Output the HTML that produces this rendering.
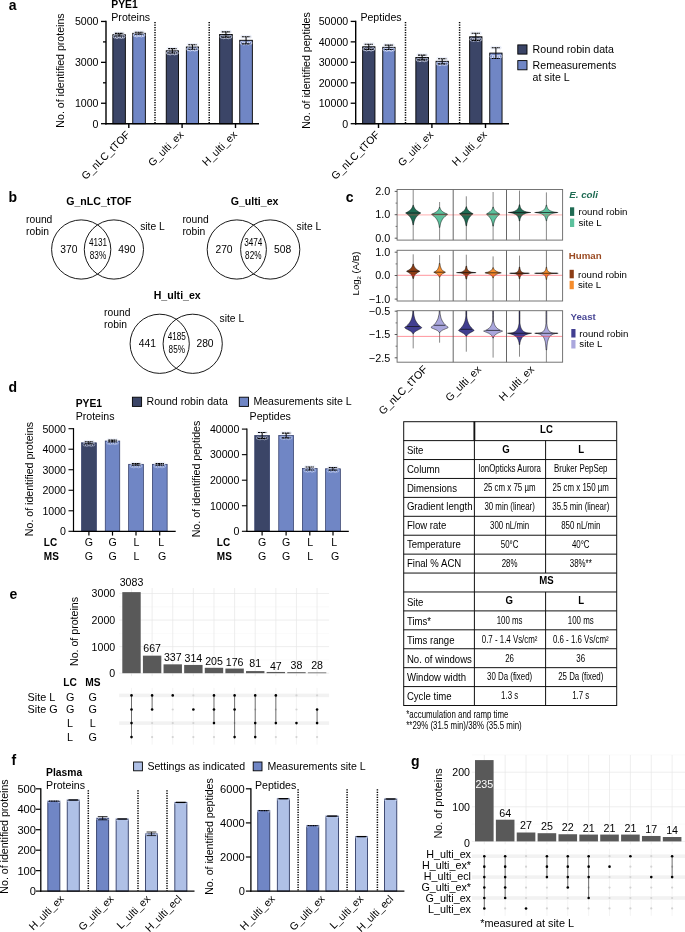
<!DOCTYPE html>
<html lang="en"><head><meta charset="utf-8"><title>Figure</title>
<style>html,body{margin:0;padding:0;background:#fff}svg{display:block}text{font-family:"Liberation Sans",Arial,sans-serif}</style>
</head><body>
<svg width="685" height="932" viewBox="0 0 685 932">
<rect width="685" height="932" fill="#fff"/>
<g id="panel-a">
<text x="8.80" y="9.50" font-size="14" font-weight="bold">a</text>
<text x="111.30" y="7.90" font-size="10.3" font-weight="bold">PYE1</text>
<text x="111.30" y="20.70" font-size="10.6">Proteins</text>
<rect x="112.85" y="34.70" width="12.50" height="89.00" fill="#3b4567" stroke="#000" stroke-width="0.9"/>
<circle cx="114.70" cy="36.55" r="1.45" fill="none" stroke="#e6ebfb" stroke-width="0.7" stroke-opacity="1"/>
<circle cx="116.90" cy="37.05" r="1.45" fill="none" stroke="#e6ebfb" stroke-width="0.7" stroke-opacity="1"/>
<circle cx="119.20" cy="36.55" r="1.45" fill="none" stroke="#e6ebfb" stroke-width="0.7" stroke-opacity="1"/>
<circle cx="121.40" cy="37.05" r="1.45" fill="none" stroke="#e6ebfb" stroke-width="0.7" stroke-opacity="1"/>
<circle cx="123.50" cy="36.55" r="1.45" fill="none" stroke="#e6ebfb" stroke-width="0.7" stroke-opacity="1"/>
<circle cx="115.20" cy="33.40" r="1.45" fill="none" stroke="#dde4f8" stroke-width="0.6"/>
<circle cx="117.80" cy="33.40" r="1.45" fill="none" stroke="#dde4f8" stroke-width="0.6"/>
<circle cx="120.50" cy="33.40" r="1.45" fill="none" stroke="#dde4f8" stroke-width="0.6"/>
<circle cx="123.10" cy="33.40" r="1.45" fill="none" stroke="#dde4f8" stroke-width="0.6"/>
<line x1="119.10" y1="33.40" x2="119.10" y2="36.00" stroke="#000" stroke-width="1.0"/>
<line x1="114.90" y1="33.40" x2="123.30" y2="33.40" stroke="#000" stroke-width="1.1" stroke-dasharray="2 0.5"/>
<line x1="114.90" y1="36.00" x2="123.30" y2="36.00" stroke="#000" stroke-width="1.1" stroke-dasharray="2 0.5"/>
<rect x="132.75" y="33.30" width="12.60" height="90.40" fill="#7086c5" stroke="#000" stroke-width="0.9"/>
<circle cx="134.65" cy="35.05" r="1.45" fill="none" stroke="#e6ebfb" stroke-width="0.7" stroke-opacity="1"/>
<circle cx="136.85" cy="35.55" r="1.45" fill="none" stroke="#e6ebfb" stroke-width="0.7" stroke-opacity="1"/>
<circle cx="139.15" cy="35.05" r="1.45" fill="none" stroke="#e6ebfb" stroke-width="0.7" stroke-opacity="1"/>
<circle cx="141.35" cy="35.55" r="1.45" fill="none" stroke="#e6ebfb" stroke-width="0.7" stroke-opacity="1"/>
<circle cx="143.45" cy="35.05" r="1.45" fill="none" stroke="#e6ebfb" stroke-width="0.7" stroke-opacity="1"/>
<circle cx="135.15" cy="32.30" r="1.45" fill="none" stroke="#dde4f8" stroke-width="0.6"/>
<circle cx="137.75" cy="32.30" r="1.45" fill="none" stroke="#dde4f8" stroke-width="0.6"/>
<circle cx="140.45" cy="32.30" r="1.45" fill="none" stroke="#dde4f8" stroke-width="0.6"/>
<circle cx="143.05" cy="32.30" r="1.45" fill="none" stroke="#dde4f8" stroke-width="0.6"/>
<line x1="139.05" y1="32.30" x2="139.05" y2="34.30" stroke="#000" stroke-width="1.0"/>
<line x1="134.85" y1="32.30" x2="143.25" y2="32.30" stroke="#000" stroke-width="1.1" stroke-dasharray="2 0.5"/>
<line x1="134.85" y1="34.30" x2="143.25" y2="34.30" stroke="#000" stroke-width="1.1" stroke-dasharray="2 0.5"/>
<rect x="166.25" y="50.80" width="12.20" height="72.90" fill="#3b4567" stroke="#000" stroke-width="0.9"/>
<circle cx="167.95" cy="52.97" r="1.45" fill="none" stroke="#e6ebfb" stroke-width="0.7" stroke-opacity="1"/>
<circle cx="170.15" cy="53.47" r="1.45" fill="none" stroke="#e6ebfb" stroke-width="0.7" stroke-opacity="1"/>
<circle cx="172.45" cy="52.97" r="1.45" fill="none" stroke="#e6ebfb" stroke-width="0.7" stroke-opacity="1"/>
<circle cx="174.65" cy="53.47" r="1.45" fill="none" stroke="#e6ebfb" stroke-width="0.7" stroke-opacity="1"/>
<circle cx="176.75" cy="52.97" r="1.45" fill="none" stroke="#e6ebfb" stroke-width="0.7" stroke-opacity="1"/>
<circle cx="168.45" cy="48.60" r="1.45" fill="none" stroke="#dde4f8" stroke-width="0.6"/>
<circle cx="171.05" cy="48.60" r="1.45" fill="none" stroke="#dde4f8" stroke-width="0.6"/>
<circle cx="173.75" cy="48.60" r="1.45" fill="none" stroke="#dde4f8" stroke-width="0.6"/>
<circle cx="176.35" cy="48.60" r="1.45" fill="none" stroke="#dde4f8" stroke-width="0.6"/>
<line x1="172.35" y1="48.60" x2="172.35" y2="53.00" stroke="#000" stroke-width="1.0"/>
<line x1="168.15" y1="48.60" x2="176.55" y2="48.60" stroke="#000" stroke-width="1.1" stroke-dasharray="2 0.5"/>
<line x1="168.15" y1="53.00" x2="176.55" y2="53.00" stroke="#000" stroke-width="1.1" stroke-dasharray="2 0.5"/>
<rect x="186.35" y="47.00" width="12.20" height="76.70" fill="#7086c5" stroke="#000" stroke-width="0.9"/>
<circle cx="188.05" cy="49.17" r="1.45" fill="none" stroke="#e6ebfb" stroke-width="0.7" stroke-opacity="1"/>
<circle cx="190.25" cy="49.67" r="1.45" fill="none" stroke="#e6ebfb" stroke-width="0.7" stroke-opacity="1"/>
<circle cx="192.55" cy="49.17" r="1.45" fill="none" stroke="#e6ebfb" stroke-width="0.7" stroke-opacity="1"/>
<circle cx="194.75" cy="49.67" r="1.45" fill="none" stroke="#e6ebfb" stroke-width="0.7" stroke-opacity="1"/>
<circle cx="196.85" cy="49.17" r="1.45" fill="none" stroke="#e6ebfb" stroke-width="0.7" stroke-opacity="1"/>
<circle cx="188.55" cy="44.80" r="1.45" fill="none" stroke="#dde4f8" stroke-width="0.6"/>
<circle cx="191.15" cy="44.80" r="1.45" fill="none" stroke="#dde4f8" stroke-width="0.6"/>
<circle cx="193.85" cy="44.80" r="1.45" fill="none" stroke="#dde4f8" stroke-width="0.6"/>
<circle cx="196.45" cy="44.80" r="1.45" fill="none" stroke="#dde4f8" stroke-width="0.6"/>
<line x1="192.45" y1="44.80" x2="192.45" y2="49.20" stroke="#000" stroke-width="1.0"/>
<line x1="188.25" y1="44.80" x2="196.65" y2="44.80" stroke="#000" stroke-width="1.1" stroke-dasharray="2 0.5"/>
<line x1="188.25" y1="49.20" x2="196.65" y2="49.20" stroke="#000" stroke-width="1.1" stroke-dasharray="2 0.5"/>
<rect x="219.65" y="34.50" width="12.60" height="89.20" fill="#3b4567" stroke="#000" stroke-width="0.9"/>
<circle cx="221.55" cy="36.81" r="1.45" fill="none" stroke="#e6ebfb" stroke-width="0.7" stroke-opacity="1"/>
<circle cx="223.75" cy="37.31" r="1.45" fill="none" stroke="#e6ebfb" stroke-width="0.7" stroke-opacity="1"/>
<circle cx="226.05" cy="36.81" r="1.45" fill="none" stroke="#e6ebfb" stroke-width="0.7" stroke-opacity="1"/>
<circle cx="228.25" cy="37.31" r="1.45" fill="none" stroke="#e6ebfb" stroke-width="0.7" stroke-opacity="1"/>
<circle cx="230.35" cy="36.81" r="1.45" fill="none" stroke="#e6ebfb" stroke-width="0.7" stroke-opacity="1"/>
<circle cx="222.05" cy="31.90" r="1.45" fill="none" stroke="#dde4f8" stroke-width="0.6"/>
<circle cx="224.65" cy="31.90" r="1.45" fill="none" stroke="#dde4f8" stroke-width="0.6"/>
<circle cx="227.35" cy="31.90" r="1.45" fill="none" stroke="#dde4f8" stroke-width="0.6"/>
<circle cx="229.95" cy="31.90" r="1.45" fill="none" stroke="#dde4f8" stroke-width="0.6"/>
<line x1="225.95" y1="31.90" x2="225.95" y2="37.10" stroke="#000" stroke-width="1.0"/>
<line x1="221.75" y1="31.90" x2="230.15" y2="31.90" stroke="#000" stroke-width="1.1" stroke-dasharray="2 0.5"/>
<line x1="221.75" y1="37.10" x2="230.15" y2="37.10" stroke="#000" stroke-width="1.1" stroke-dasharray="2 0.5"/>
<rect x="239.75" y="40.30" width="12.60" height="83.40" fill="#7086c5" stroke="#000" stroke-width="0.9"/>
<circle cx="241.65" cy="42.96" r="1.45" fill="none" stroke="#e6ebfb" stroke-width="0.7" stroke-opacity="1"/>
<circle cx="243.85" cy="43.46" r="1.45" fill="none" stroke="#e6ebfb" stroke-width="0.7" stroke-opacity="1"/>
<circle cx="246.15" cy="42.96" r="1.45" fill="none" stroke="#e6ebfb" stroke-width="0.7" stroke-opacity="1"/>
<circle cx="248.35" cy="43.46" r="1.45" fill="none" stroke="#e6ebfb" stroke-width="0.7" stroke-opacity="1"/>
<circle cx="250.45" cy="42.96" r="1.45" fill="none" stroke="#e6ebfb" stroke-width="0.7" stroke-opacity="1"/>
<circle cx="242.15" cy="36.70" r="1.45" fill="none" stroke="#dde4f8" stroke-width="0.6"/>
<circle cx="244.75" cy="36.70" r="1.45" fill="none" stroke="#dde4f8" stroke-width="0.6"/>
<circle cx="247.45" cy="36.70" r="1.45" fill="none" stroke="#dde4f8" stroke-width="0.6"/>
<circle cx="250.05" cy="36.70" r="1.45" fill="none" stroke="#dde4f8" stroke-width="0.6"/>
<line x1="246.05" y1="36.70" x2="246.05" y2="43.90" stroke="#000" stroke-width="1.0"/>
<line x1="241.85" y1="36.70" x2="250.25" y2="36.70" stroke="#000" stroke-width="1.1" stroke-dasharray="2 0.5"/>
<line x1="241.85" y1="43.90" x2="250.25" y2="43.90" stroke="#000" stroke-width="1.1" stroke-dasharray="2 0.5"/>
<line x1="155.00" y1="21.90" x2="155.00" y2="123.70" stroke="#000" stroke-width="1.5" stroke-dasharray="1.25 1.25"/>
<line x1="209.20" y1="21.90" x2="209.20" y2="123.70" stroke="#000" stroke-width="1.5" stroke-dasharray="1.25 1.25"/>
<line x1="106.00" y1="20.70" x2="106.00" y2="124.40" stroke="#000" stroke-width="1.4"/>
<line x1="105.30" y1="123.70" x2="259.00" y2="123.70" stroke="#000" stroke-width="1.4"/>
<line x1="101.00" y1="21.45" x2="106.00" y2="21.45" stroke="#000" stroke-width="1.2999999999999998"/>
<text x="98.50" y="25.26" font-size="10.6" text-anchor="end">5000</text>
<line x1="101.00" y1="62.35" x2="106.00" y2="62.35" stroke="#000" stroke-width="1.2999999999999998"/>
<text x="98.50" y="66.16" font-size="10.6" text-anchor="end">3000</text>
<line x1="101.00" y1="103.25" x2="106.00" y2="103.25" stroke="#000" stroke-width="1.2999999999999998"/>
<text x="98.50" y="107.06" font-size="10.6" text-anchor="end">1000</text>
<line x1="101.00" y1="123.70" x2="106.00" y2="123.70" stroke="#000" stroke-width="1.2999999999999998"/>
<text x="98.50" y="127.51" font-size="10.6" text-anchor="end">0</text>
<line x1="103.00" y1="41.90" x2="106.00" y2="41.90" stroke="#000" stroke-width="1.2999999999999998"/>
<line x1="103.00" y1="82.80" x2="106.00" y2="82.80" stroke="#000" stroke-width="1.2999999999999998"/>
<line x1="128.80" y1="123.70" x2="128.80" y2="128.00" stroke="#000" stroke-width="1.4"/>
<line x1="182.10" y1="123.70" x2="182.10" y2="128.00" stroke="#000" stroke-width="1.4"/>
<line x1="235.50" y1="123.70" x2="235.50" y2="128.00" stroke="#000" stroke-width="1.4"/>
<text transform="translate(64.30,70.50) rotate(-90)" font-size="10.6" text-anchor="middle">No. of identified proteins</text>
<text transform="translate(130.70,135.30) rotate(-45)" font-size="10.6" text-anchor="end">G_nLC_tTOF</text>
<text transform="translate(184.20,135.30) rotate(-45)" font-size="10.6" text-anchor="end">G_ulti_ex</text>
<text transform="translate(237.70,135.30) rotate(-45)" font-size="10.6" text-anchor="end">H_ulti_ex</text>
<text x="360.40" y="20.70" font-size="10.6">Peptides</text>
<rect x="362.65" y="46.80" width="12.30" height="76.90" fill="#3b4567" stroke="#000" stroke-width="0.9"/>
<circle cx="364.40" cy="49.11" r="1.45" fill="none" stroke="#e6ebfb" stroke-width="0.7" stroke-opacity="1"/>
<circle cx="366.60" cy="49.61" r="1.45" fill="none" stroke="#e6ebfb" stroke-width="0.7" stroke-opacity="1"/>
<circle cx="368.90" cy="49.11" r="1.45" fill="none" stroke="#e6ebfb" stroke-width="0.7" stroke-opacity="1"/>
<circle cx="371.10" cy="49.61" r="1.45" fill="none" stroke="#e6ebfb" stroke-width="0.7" stroke-opacity="1"/>
<circle cx="373.20" cy="49.11" r="1.45" fill="none" stroke="#e6ebfb" stroke-width="0.7" stroke-opacity="1"/>
<circle cx="364.90" cy="44.20" r="1.45" fill="none" stroke="#dde4f8" stroke-width="0.6"/>
<circle cx="367.50" cy="44.20" r="1.45" fill="none" stroke="#dde4f8" stroke-width="0.6"/>
<circle cx="370.20" cy="44.20" r="1.45" fill="none" stroke="#dde4f8" stroke-width="0.6"/>
<circle cx="372.80" cy="44.20" r="1.45" fill="none" stroke="#dde4f8" stroke-width="0.6"/>
<line x1="368.80" y1="44.20" x2="368.80" y2="49.40" stroke="#000" stroke-width="1.0"/>
<line x1="364.60" y1="44.20" x2="373.00" y2="44.20" stroke="#000" stroke-width="1.1" stroke-dasharray="2 0.5"/>
<line x1="364.60" y1="49.40" x2="373.00" y2="49.40" stroke="#000" stroke-width="1.1" stroke-dasharray="2 0.5"/>
<rect x="382.75" y="47.30" width="12.30" height="76.40" fill="#7086c5" stroke="#000" stroke-width="0.9"/>
<circle cx="384.50" cy="49.47" r="1.45" fill="none" stroke="#e6ebfb" stroke-width="0.7" stroke-opacity="1"/>
<circle cx="386.70" cy="49.97" r="1.45" fill="none" stroke="#e6ebfb" stroke-width="0.7" stroke-opacity="1"/>
<circle cx="389.00" cy="49.47" r="1.45" fill="none" stroke="#e6ebfb" stroke-width="0.7" stroke-opacity="1"/>
<circle cx="391.20" cy="49.97" r="1.45" fill="none" stroke="#e6ebfb" stroke-width="0.7" stroke-opacity="1"/>
<circle cx="393.30" cy="49.47" r="1.45" fill="none" stroke="#e6ebfb" stroke-width="0.7" stroke-opacity="1"/>
<circle cx="385.00" cy="45.10" r="1.45" fill="none" stroke="#dde4f8" stroke-width="0.6"/>
<circle cx="387.60" cy="45.10" r="1.45" fill="none" stroke="#dde4f8" stroke-width="0.6"/>
<circle cx="390.30" cy="45.10" r="1.45" fill="none" stroke="#dde4f8" stroke-width="0.6"/>
<circle cx="392.90" cy="45.10" r="1.45" fill="none" stroke="#dde4f8" stroke-width="0.6"/>
<line x1="388.90" y1="45.10" x2="388.90" y2="49.50" stroke="#000" stroke-width="1.0"/>
<line x1="384.70" y1="45.10" x2="393.10" y2="45.10" stroke="#000" stroke-width="1.1" stroke-dasharray="2 0.5"/>
<line x1="384.70" y1="49.50" x2="393.10" y2="49.50" stroke="#000" stroke-width="1.1" stroke-dasharray="2 0.5"/>
<rect x="415.85" y="57.50" width="12.60" height="66.20" fill="#3b4567" stroke="#000" stroke-width="0.9"/>
<circle cx="417.75" cy="59.74" r="1.45" fill="none" stroke="#e6ebfb" stroke-width="0.7" stroke-opacity="1"/>
<circle cx="419.95" cy="60.24" r="1.45" fill="none" stroke="#e6ebfb" stroke-width="0.7" stroke-opacity="1"/>
<circle cx="422.25" cy="59.74" r="1.45" fill="none" stroke="#e6ebfb" stroke-width="0.7" stroke-opacity="1"/>
<circle cx="424.45" cy="60.24" r="1.45" fill="none" stroke="#e6ebfb" stroke-width="0.7" stroke-opacity="1"/>
<circle cx="426.55" cy="59.74" r="1.45" fill="none" stroke="#e6ebfb" stroke-width="0.7" stroke-opacity="1"/>
<circle cx="418.25" cy="55.10" r="1.45" fill="none" stroke="#dde4f8" stroke-width="0.6"/>
<circle cx="420.85" cy="55.10" r="1.45" fill="none" stroke="#dde4f8" stroke-width="0.6"/>
<circle cx="423.55" cy="55.10" r="1.45" fill="none" stroke="#dde4f8" stroke-width="0.6"/>
<circle cx="426.15" cy="55.10" r="1.45" fill="none" stroke="#dde4f8" stroke-width="0.6"/>
<line x1="422.15" y1="55.10" x2="422.15" y2="59.90" stroke="#000" stroke-width="1.0"/>
<line x1="417.95" y1="55.10" x2="426.35" y2="55.10" stroke="#000" stroke-width="1.1" stroke-dasharray="2 0.5"/>
<line x1="417.95" y1="59.90" x2="426.35" y2="59.90" stroke="#000" stroke-width="1.1" stroke-dasharray="2 0.5"/>
<rect x="436.05" y="61.30" width="12.30" height="62.40" fill="#7086c5" stroke="#000" stroke-width="0.9"/>
<circle cx="437.80" cy="63.61" r="1.45" fill="none" stroke="#e6ebfb" stroke-width="0.7" stroke-opacity="1"/>
<circle cx="440.00" cy="64.11" r="1.45" fill="none" stroke="#e6ebfb" stroke-width="0.7" stroke-opacity="1"/>
<circle cx="442.30" cy="63.61" r="1.45" fill="none" stroke="#e6ebfb" stroke-width="0.7" stroke-opacity="1"/>
<circle cx="444.50" cy="64.11" r="1.45" fill="none" stroke="#e6ebfb" stroke-width="0.7" stroke-opacity="1"/>
<circle cx="446.60" cy="63.61" r="1.45" fill="none" stroke="#e6ebfb" stroke-width="0.7" stroke-opacity="1"/>
<circle cx="438.30" cy="58.70" r="1.45" fill="none" stroke="#dde4f8" stroke-width="0.6"/>
<circle cx="440.90" cy="58.70" r="1.45" fill="none" stroke="#dde4f8" stroke-width="0.6"/>
<circle cx="443.60" cy="58.70" r="1.45" fill="none" stroke="#dde4f8" stroke-width="0.6"/>
<circle cx="446.20" cy="58.70" r="1.45" fill="none" stroke="#dde4f8" stroke-width="0.6"/>
<line x1="442.20" y1="58.70" x2="442.20" y2="63.90" stroke="#000" stroke-width="1.0"/>
<line x1="438.00" y1="58.70" x2="446.40" y2="58.70" stroke="#000" stroke-width="1.1" stroke-dasharray="2 0.5"/>
<line x1="438.00" y1="63.90" x2="446.40" y2="63.90" stroke="#000" stroke-width="1.1" stroke-dasharray="2 0.5"/>
<rect x="469.65" y="36.80" width="12.30" height="86.90" fill="#3b4567" stroke="#000" stroke-width="0.9"/>
<circle cx="471.40" cy="39.46" r="1.45" fill="none" stroke="#e6ebfb" stroke-width="0.7" stroke-opacity="1"/>
<circle cx="473.60" cy="39.96" r="1.45" fill="none" stroke="#e6ebfb" stroke-width="0.7" stroke-opacity="1"/>
<circle cx="475.90" cy="39.46" r="1.45" fill="none" stroke="#e6ebfb" stroke-width="0.7" stroke-opacity="1"/>
<circle cx="478.10" cy="39.96" r="1.45" fill="none" stroke="#e6ebfb" stroke-width="0.7" stroke-opacity="1"/>
<circle cx="480.20" cy="39.46" r="1.45" fill="none" stroke="#e6ebfb" stroke-width="0.7" stroke-opacity="1"/>
<circle cx="471.90" cy="33.20" r="1.45" fill="none" stroke="#dde4f8" stroke-width="0.6"/>
<circle cx="474.50" cy="33.20" r="1.45" fill="none" stroke="#dde4f8" stroke-width="0.6"/>
<circle cx="477.20" cy="33.20" r="1.45" fill="none" stroke="#dde4f8" stroke-width="0.6"/>
<circle cx="479.80" cy="33.20" r="1.45" fill="none" stroke="#dde4f8" stroke-width="0.6"/>
<line x1="475.80" y1="33.20" x2="475.80" y2="40.40" stroke="#000" stroke-width="1.0"/>
<line x1="471.60" y1="33.20" x2="480.00" y2="33.20" stroke="#000" stroke-width="1.1" stroke-dasharray="2 0.5"/>
<line x1="471.60" y1="40.40" x2="480.00" y2="40.40" stroke="#000" stroke-width="1.1" stroke-dasharray="2 0.5"/>
<rect x="489.75" y="53.10" width="12.30" height="70.60" fill="#7086c5" stroke="#000" stroke-width="0.9"/>
<circle cx="491.50" cy="56.39" r="1.45" fill="none" stroke="#e6ebfb" stroke-width="0.7" stroke-opacity="1"/>
<circle cx="493.70" cy="56.89" r="1.45" fill="none" stroke="#e6ebfb" stroke-width="0.7" stroke-opacity="1"/>
<circle cx="496.00" cy="56.39" r="1.45" fill="none" stroke="#e6ebfb" stroke-width="0.7" stroke-opacity="1"/>
<circle cx="498.20" cy="56.89" r="1.45" fill="none" stroke="#e6ebfb" stroke-width="0.7" stroke-opacity="1"/>
<circle cx="500.30" cy="56.39" r="1.45" fill="none" stroke="#e6ebfb" stroke-width="0.7" stroke-opacity="1"/>
<circle cx="492.00" cy="47.70" r="1.45" fill="none" stroke="#dde4f8" stroke-width="0.6"/>
<circle cx="494.60" cy="47.70" r="1.45" fill="none" stroke="#dde4f8" stroke-width="0.6"/>
<circle cx="497.30" cy="47.70" r="1.45" fill="none" stroke="#dde4f8" stroke-width="0.6"/>
<circle cx="499.90" cy="47.70" r="1.45" fill="none" stroke="#dde4f8" stroke-width="0.6"/>
<line x1="495.90" y1="47.70" x2="495.90" y2="58.50" stroke="#000" stroke-width="1.0"/>
<line x1="491.70" y1="47.70" x2="500.10" y2="47.70" stroke="#000" stroke-width="1.1" stroke-dasharray="2 0.5"/>
<line x1="491.70" y1="58.50" x2="500.10" y2="58.50" stroke="#000" stroke-width="1.1" stroke-dasharray="2 0.5"/>
<line x1="405.50" y1="21.90" x2="405.50" y2="123.70" stroke="#000" stroke-width="1.5" stroke-dasharray="1.25 1.25"/>
<line x1="459.60" y1="21.90" x2="459.60" y2="123.70" stroke="#000" stroke-width="1.5" stroke-dasharray="1.25 1.25"/>
<line x1="355.70" y1="20.70" x2="355.70" y2="124.40" stroke="#000" stroke-width="1.4"/>
<line x1="355.00" y1="123.70" x2="509.00" y2="123.70" stroke="#000" stroke-width="1.4"/>
<line x1="350.70" y1="21.40" x2="355.70" y2="21.40" stroke="#000" stroke-width="1.2999999999999998"/>
<text x="348.20" y="25.21" font-size="10.6" text-anchor="end">50000</text>
<line x1="350.70" y1="41.86" x2="355.70" y2="41.86" stroke="#000" stroke-width="1.2999999999999998"/>
<text x="348.20" y="45.67" font-size="10.6" text-anchor="end">40000</text>
<line x1="350.70" y1="62.32" x2="355.70" y2="62.32" stroke="#000" stroke-width="1.2999999999999998"/>
<text x="348.20" y="66.13" font-size="10.6" text-anchor="end">30000</text>
<line x1="350.70" y1="82.78" x2="355.70" y2="82.78" stroke="#000" stroke-width="1.2999999999999998"/>
<text x="348.20" y="86.59" font-size="10.6" text-anchor="end">20000</text>
<line x1="350.70" y1="103.24" x2="355.70" y2="103.24" stroke="#000" stroke-width="1.2999999999999998"/>
<text x="348.20" y="107.05" font-size="10.6" text-anchor="end">10000</text>
<line x1="350.70" y1="123.70" x2="355.70" y2="123.70" stroke="#000" stroke-width="1.2999999999999998"/>
<text x="348.20" y="127.51" font-size="10.6" text-anchor="end">0</text>
<line x1="378.50" y1="123.70" x2="378.50" y2="128.00" stroke="#000" stroke-width="1.4"/>
<line x1="431.90" y1="123.70" x2="431.90" y2="128.00" stroke="#000" stroke-width="1.4"/>
<line x1="485.50" y1="123.70" x2="485.50" y2="128.00" stroke="#000" stroke-width="1.4"/>
<text transform="translate(309.60,70.50) rotate(-90)" font-size="10.6" text-anchor="middle">No. of identified peptides</text>
<text transform="translate(380.40,135.30) rotate(-45)" font-size="10.6" text-anchor="end">G_nLC_tTOF</text>
<text transform="translate(434.00,135.30) rotate(-45)" font-size="10.6" text-anchor="end">G_ulti_ex</text>
<text transform="translate(487.60,135.30) rotate(-45)" font-size="10.6" text-anchor="end">H_ulti_ex</text>
<rect x="517.80" y="44.90" width="9.20" height="9.20" fill="#3b4567" stroke="#000" stroke-width="0.9"/>
<rect x="517.80" y="60.60" width="9.20" height="9.20" fill="#7086c5" stroke="#000" stroke-width="0.9"/>
<text x="532.60" y="52.60" font-size="10.6">Round robin data</text>
<text x="532.60" y="68.90" font-size="10.6">Remeasurements</text>
<text x="532.60" y="81.20" font-size="10.6">at site L</text>
</g>
<g id="panel-b">
<text x="8.60" y="202.10" font-size="14" font-weight="bold">b</text>
<circle cx="81.2" cy="249.5" r="29.6" fill="none" stroke="#000" stroke-width="0.9"/>
<circle cx="113.9" cy="249.5" r="29.6" fill="none" stroke="#000" stroke-width="0.9"/>
<text x="98.80" y="205.40" font-size="10.6" text-anchor="middle" font-weight="bold">G_nLC_tTOF</text>
<text x="26.00" y="222.70" font-size="10.3">round</text>
<text x="26.00" y="234.60" font-size="10.3">robin</text>
<text x="140.20" y="229.70" font-size="10.3">site L</text>
<text x="68.80" y="252.50" font-size="10.3" text-anchor="middle">370</text>
<text x="126.80" y="252.50" font-size="10.3" text-anchor="middle">490</text>
<text transform="translate(98.00,246.30) scale(0.82,1)" font-size="10" text-anchor="middle">4131</text>
<text transform="translate(98.00,259.00) scale(0.82,1)" font-size="10" text-anchor="middle">83%</text>
<circle cx="236.8" cy="249.5" r="29.6" fill="none" stroke="#000" stroke-width="0.9"/>
<circle cx="270.2" cy="249.5" r="29.6" fill="none" stroke="#000" stroke-width="0.9"/>
<text x="254.60" y="205.40" font-size="10.6" text-anchor="middle" font-weight="bold">G_ulti_ex</text>
<text x="182.40" y="222.70" font-size="10.3">round</text>
<text x="182.40" y="234.60" font-size="10.3">robin</text>
<text x="296.60" y="229.70" font-size="10.3">site L</text>
<text x="224.00" y="252.50" font-size="10.3" text-anchor="middle">270</text>
<text x="282.70" y="252.50" font-size="10.3" text-anchor="middle">508</text>
<text transform="translate(253.30,246.30) scale(0.82,1)" font-size="10" text-anchor="middle">3474</text>
<text transform="translate(253.30,259.00) scale(0.82,1)" font-size="10" text-anchor="middle">82%</text>
<circle cx="159.7" cy="343.8" r="29.6" fill="none" stroke="#000" stroke-width="0.9"/>
<circle cx="192.7" cy="343.8" r="29.6" fill="none" stroke="#000" stroke-width="0.9"/>
<text x="177.20" y="299.10" font-size="10.6" text-anchor="middle" font-weight="bold">H_ulti_ex</text>
<text x="104.10" y="315.80" font-size="10.3">round</text>
<text x="104.10" y="328.40" font-size="10.3">robin</text>
<text x="219.50" y="322.20" font-size="10.3">site L</text>
<text x="147.30" y="346.60" font-size="10.3" text-anchor="middle">441</text>
<text x="205.00" y="346.60" font-size="10.3" text-anchor="middle">280</text>
<text transform="translate(176.80,339.60) scale(0.82,1)" font-size="10" text-anchor="middle">4185</text>
<text transform="translate(176.80,352.80) scale(0.82,1)" font-size="10" text-anchor="middle">85%</text>
</g>
<g id="panel-c">
<text x="345.80" y="201.90" font-size="14" font-weight="bold">c</text>
<line x1="413.20" y1="189.50" x2="413.20" y2="240.10" stroke="#484848" stroke-width="0.65"/>
<path d="M413.5,205.3 413.6,205.9 413.8,206.5 414.0,207.1 414.3,207.6 414.5,208.1 414.9,208.6 415.2,209.1 415.6,209.6 416.1,210.0 416.6,210.4 417.1,210.8 417.6,211.1 418.1,211.5 418.6,211.8 419.0,212.0 419.5,212.3 419.9,212.5 420.2,212.6 420.5,212.8 420.7,212.9 420.8,213.0 420.8,213.0 420.8,213.0 420.6,213.2 420.4,213.3 420.1,213.5 419.7,213.8 419.3,214.1 418.8,214.5 418.3,214.9 417.8,215.4 417.3,215.8 416.8,216.4 416.3,216.9 415.9,217.6 415.5,218.2 415.1,218.9 414.8,219.6 414.5,220.4 414.2,221.2 414.0,222.0 413.8,222.9 413.6,223.8 413.5,224.8 412.9,224.8 412.8,223.8 412.6,222.9 412.4,222.0 412.2,221.2 411.9,220.4 411.6,219.6 411.3,218.9 410.9,218.2 410.5,217.6 410.1,216.9 409.6,216.4 409.1,215.8 408.6,215.4 408.1,214.9 407.6,214.5 407.1,214.1 406.7,213.8 406.3,213.5 406.0,213.3 405.8,213.2 405.6,213.0 405.6,213.0 405.6,213.0 405.7,212.9 405.9,212.8 406.2,212.6 406.5,212.5 406.9,212.3 407.4,212.0 407.8,211.8 408.3,211.5 408.8,211.1 409.3,210.8 409.8,210.4 410.3,210.0 410.8,209.6 411.2,209.1 411.5,208.6 411.9,208.1 412.1,207.6 412.4,207.1 412.6,206.5 412.8,205.9 412.9,205.3Z" fill="#1f6b53" stroke="#0a0a0a" stroke-width="0.5" stroke-linejoin="round"/>
<line x1="406.33" y1="213.00" x2="420.07" y2="213.00" stroke="#111" stroke-width="0.7"/>
<line x1="439.60" y1="202.00" x2="439.60" y2="240.10" stroke="#484848" stroke-width="0.65"/>
<path d="M439.9,207.4 440.0,208.0 440.2,208.5 440.4,209.0 440.7,209.5 441.0,210.0 441.3,210.4 441.7,210.8 442.2,211.2 442.6,211.6 443.1,212.0 443.7,212.3 444.2,212.6 444.8,212.9 445.3,213.2 445.8,213.4 446.3,213.6 446.7,213.8 447.1,214.0 447.4,214.1 447.6,214.2 447.7,214.3 447.8,214.3 447.7,214.4 447.6,214.5 447.3,214.7 447.0,214.9 446.5,215.2 446.1,215.6 445.6,216.0 445.0,216.4 444.5,216.9 443.9,217.5 443.4,218.1 442.9,218.7 442.4,219.4 442.0,220.1 441.6,220.9 441.2,221.7 440.9,222.5 440.6,223.4 440.4,224.3 440.2,225.3 440.0,226.3 439.9,227.4 439.3,227.4 439.2,226.3 439.0,225.3 438.8,224.3 438.6,223.4 438.3,222.5 438.0,221.7 437.6,220.9 437.2,220.1 436.8,219.4 436.3,218.7 435.8,218.1 435.3,217.5 434.7,216.9 434.2,216.4 433.6,216.0 433.1,215.6 432.7,215.2 432.2,214.9 431.9,214.7 431.6,214.5 431.5,214.4 431.4,214.3 431.5,214.3 431.6,214.2 431.8,214.1 432.1,214.0 432.5,213.8 432.9,213.6 433.4,213.4 433.9,213.2 434.4,212.9 435.0,212.6 435.5,212.3 436.1,212.0 436.6,211.6 437.0,211.2 437.5,210.8 437.9,210.4 438.2,210.0 438.5,209.5 438.8,209.0 439.0,208.5 439.2,208.0 439.3,207.4Z" fill="#5cc19d" stroke="#0a0a0a" stroke-width="0.5" stroke-linejoin="round"/>
<line x1="432.24" y1="214.30" x2="446.96" y2="214.30" stroke="#111" stroke-width="0.7"/>
<line x1="466.30" y1="196.30" x2="466.30" y2="240.10" stroke="#484848" stroke-width="0.65"/>
<path d="M466.6,206.8 466.7,207.4 466.9,207.9 467.1,208.5 467.3,209.0 467.6,209.4 467.9,209.9 468.3,210.3 468.7,210.7 469.1,211.1 469.5,211.5 470.0,211.8 470.4,212.1 470.9,212.4 471.3,212.7 471.7,212.9 472.0,213.1 472.4,213.3 472.6,213.5 472.8,213.6 473.0,213.7 473.1,213.8 473.1,213.8 473.0,213.8 472.9,214.0 472.7,214.1 472.4,214.4 472.1,214.6 471.7,215.0 471.3,215.3 470.9,215.7 470.5,216.2 470.0,216.7 469.6,217.3 469.2,217.8 468.8,218.5 468.4,219.1 468.1,219.8 467.8,220.6 467.5,221.4 467.3,222.2 467.0,223.0 466.9,223.9 466.7,224.9 466.6,225.8 466.0,225.8 465.9,224.9 465.7,223.9 465.6,223.0 465.3,222.2 465.1,221.4 464.8,220.6 464.5,219.8 464.2,219.1 463.8,218.5 463.4,217.8 463.0,217.3 462.6,216.7 462.1,216.2 461.7,215.7 461.3,215.3 460.9,215.0 460.5,214.6 460.2,214.4 459.9,214.1 459.7,214.0 459.6,213.8 459.5,213.8 459.5,213.8 459.6,213.7 459.8,213.6 460.0,213.5 460.2,213.3 460.6,213.1 460.9,212.9 461.3,212.7 461.7,212.4 462.2,212.1 462.6,211.8 463.1,211.5 463.5,211.1 463.9,210.7 464.3,210.3 464.7,209.9 465.0,209.4 465.3,209.0 465.5,208.5 465.7,207.9 465.9,207.4 466.0,206.8Z" fill="#1f6b53" stroke="#0a0a0a" stroke-width="0.5" stroke-linejoin="round"/>
<line x1="460.20" y1="213.80" x2="472.40" y2="213.80" stroke="#111" stroke-width="0.7"/>
<line x1="493.10" y1="192.00" x2="493.10" y2="240.10" stroke="#484848" stroke-width="0.65"/>
<path d="M493.4,207.1 493.5,207.7 493.7,208.2 493.9,208.8 494.1,209.3 494.4,209.7 494.7,210.2 495.1,210.6 495.5,211.0 495.9,211.4 496.3,211.8 496.8,212.1 497.2,212.4 497.7,212.7 498.1,213.0 498.5,213.2 498.8,213.4 499.2,213.6 499.4,213.8 499.6,213.9 499.8,214.0 499.9,214.1 499.9,214.1 499.8,214.1 499.7,214.3 499.5,214.4 499.2,214.7 498.9,214.9 498.5,215.3 498.1,215.6 497.7,216.0 497.3,216.5 496.8,217.0 496.4,217.6 496.0,218.1 495.6,218.8 495.2,219.4 494.9,220.1 494.6,220.9 494.3,221.7 494.1,222.5 493.8,223.3 493.7,224.2 493.5,225.2 493.4,226.1 492.8,226.1 492.7,225.2 492.5,224.2 492.4,223.3 492.1,222.5 491.9,221.7 491.6,220.9 491.3,220.1 491.0,219.4 490.6,218.8 490.2,218.1 489.8,217.6 489.4,217.0 488.9,216.5 488.5,216.0 488.1,215.6 487.7,215.3 487.3,214.9 487.0,214.7 486.7,214.4 486.5,214.3 486.4,214.1 486.3,214.1 486.3,214.1 486.4,214.0 486.6,213.9 486.8,213.8 487.0,213.6 487.4,213.4 487.7,213.2 488.1,213.0 488.5,212.7 489.0,212.4 489.4,212.1 489.9,211.8 490.3,211.4 490.7,211.0 491.1,210.6 491.5,210.2 491.8,209.7 492.1,209.3 492.3,208.8 492.5,208.2 492.7,207.7 492.8,207.1Z" fill="#5cc19d" stroke="#0a0a0a" stroke-width="0.5" stroke-linejoin="round"/>
<line x1="487.00" y1="214.10" x2="499.20" y2="214.10" stroke="#111" stroke-width="0.7"/>
<line x1="519.50" y1="190.60" x2="519.50" y2="240.10" stroke="#484848" stroke-width="0.65"/>
<path d="M519.8,204.8 519.9,205.4 520.0,206.0 520.2,206.6 520.3,207.2 520.6,207.7 520.8,208.2 521.1,208.6 521.4,209.1 521.8,209.5 522.2,209.9 522.7,210.3 523.3,210.6 523.9,211.0 524.6,211.3 525.3,211.5 526.1,211.8 526.9,212.0 527.8,212.1 528.7,212.3 529.6,212.4 530.4,212.5 530.9,212.5 530.4,212.5 529.6,212.6 528.7,212.7 527.8,212.9 526.9,213.1 526.1,213.3 525.3,213.6 524.6,213.9 523.9,214.2 523.3,214.5 522.7,214.9 522.2,215.3 521.8,215.7 521.4,216.2 521.1,216.7 520.8,217.2 520.6,217.8 520.3,218.3 520.2,218.9 520.0,219.5 519.9,220.2 519.8,220.9 519.2,220.9 519.1,220.2 519.0,219.5 518.8,218.9 518.7,218.3 518.4,217.8 518.2,217.2 517.9,216.7 517.6,216.2 517.2,215.7 516.8,215.3 516.3,214.9 515.7,214.5 515.1,214.2 514.4,213.9 513.7,213.6 512.9,213.3 512.1,213.1 511.2,212.9 510.3,212.7 509.4,212.6 508.6,212.5 508.1,212.5 508.6,212.5 509.4,212.4 510.3,212.3 511.2,212.1 512.1,212.0 512.9,211.8 513.7,211.5 514.4,211.3 515.1,211.0 515.7,210.6 516.3,210.3 516.8,209.9 517.2,209.5 517.6,209.1 517.9,208.6 518.2,208.2 518.4,207.7 518.7,207.2 518.8,206.6 519.0,206.0 519.1,205.4 519.2,204.8Z" fill="#1f6b53" stroke="#0a0a0a" stroke-width="0.5" stroke-linejoin="round"/>
<line x1="509.26" y1="212.50" x2="529.74" y2="212.50" stroke="#111" stroke-width="0.7"/>
<line x1="546.40" y1="192.40" x2="546.40" y2="240.10" stroke="#484848" stroke-width="0.65"/>
<path d="M546.7,205.2 546.8,205.8 546.9,206.3 547.1,206.9 547.3,207.4 547.5,207.9 547.7,208.4 548.0,208.8 548.3,209.3 548.7,209.7 549.2,210.0 549.7,210.4 550.2,210.7 550.9,211.0 551.6,211.3 552.3,211.6 553.2,211.8 554.0,212.0 555.0,212.2 555.9,212.3 556.8,212.4 557.6,212.5 558.1,212.5 557.6,212.5 556.8,212.6 555.9,212.7 555.0,212.9 554.0,213.1 553.2,213.3 552.3,213.5 551.6,213.8 550.9,214.1 550.2,214.5 549.7,214.9 549.2,215.3 548.7,215.7 548.3,216.1 548.0,216.6 547.7,217.1 547.5,217.7 547.3,218.2 547.1,218.8 546.9,219.4 546.8,220.1 546.7,220.7 546.1,220.7 546.0,220.1 545.9,219.4 545.7,218.8 545.5,218.2 545.3,217.7 545.1,217.1 544.8,216.6 544.5,216.1 544.1,215.7 543.6,215.3 543.1,214.9 542.6,214.5 541.9,214.1 541.2,213.8 540.5,213.5 539.6,213.3 538.8,213.1 537.8,212.9 536.9,212.7 536.0,212.6 535.2,212.5 534.7,212.5 535.2,212.5 536.0,212.4 536.9,212.3 537.8,212.2 538.8,212.0 539.6,211.8 540.5,211.6 541.2,211.3 541.9,211.0 542.6,210.7 543.1,210.4 543.6,210.0 544.1,209.7 544.5,209.3 544.8,208.8 545.1,208.4 545.3,207.9 545.5,207.4 545.7,206.9 545.9,206.3 546.0,205.8 546.1,205.2Z" fill="#5cc19d" stroke="#0a0a0a" stroke-width="0.5" stroke-linejoin="round"/>
<line x1="535.84" y1="212.50" x2="556.96" y2="212.50" stroke="#111" stroke-width="0.7"/>
<line x1="413.20" y1="254.30" x2="413.20" y2="301.00" stroke="#484848" stroke-width="0.65"/>
<path d="M413.5,264.1 413.6,264.7 413.8,265.2 413.9,265.8 414.2,266.3 414.4,266.8 414.7,267.2 415.0,267.7 415.3,268.1 415.7,268.5 416.1,268.9 416.5,269.2 417.0,269.6 417.4,269.9 417.8,270.1 418.2,270.4 418.6,270.6 419.0,270.8 419.3,271.0 419.5,271.1 419.7,271.2 419.8,271.3 419.9,271.3 419.8,271.3 419.7,271.4 419.5,271.5 419.3,271.6 419.0,271.8 418.6,272.0 418.2,272.2 417.8,272.5 417.4,272.7 417.0,273.0 416.5,273.4 416.1,273.7 415.7,274.1 415.3,274.5 415.0,274.9 414.7,275.4 414.4,275.8 414.2,276.3 413.9,276.8 413.8,277.4 413.6,277.9 413.5,278.5 412.9,278.5 412.8,277.9 412.6,277.4 412.5,276.8 412.2,276.3 412.0,275.8 411.7,275.4 411.4,274.9 411.1,274.5 410.7,274.1 410.3,273.7 409.9,273.4 409.4,273.0 409.0,272.7 408.6,272.5 408.2,272.2 407.8,272.0 407.4,271.8 407.1,271.6 406.9,271.5 406.7,271.4 406.6,271.3 406.5,271.3 406.6,271.3 406.7,271.2 406.9,271.1 407.1,271.0 407.4,270.8 407.8,270.6 408.2,270.4 408.6,270.1 409.0,269.9 409.4,269.6 409.9,269.2 410.3,268.9 410.7,268.5 411.1,268.1 411.4,267.7 411.7,267.2 412.0,266.8 412.2,266.3 412.5,265.8 412.6,265.2 412.8,264.7 412.9,264.1Z" fill="#8c3d15" stroke="#0a0a0a" stroke-width="0.5" stroke-linejoin="round"/>
<line x1="407.19" y1="271.30" x2="419.21" y2="271.30" stroke="#111" stroke-width="0.7"/>
<line x1="439.60" y1="255.10" x2="439.60" y2="301.00" stroke="#484848" stroke-width="0.65"/>
<path d="M439.9,263.4 440.0,264.1 440.1,264.8 440.2,265.4 440.3,266.1 440.5,266.7 440.7,267.2 440.9,267.8 441.1,268.3 441.4,268.8 441.6,269.2 441.9,269.7 442.3,270.1 442.6,270.4 443.0,270.8 443.3,271.1 443.7,271.3 444.1,271.6 444.5,271.8 444.8,272.0 445.1,272.1 445.3,272.2 445.5,272.2 445.5,272.2 445.4,272.3 445.3,272.3 445.1,272.4 444.9,272.5 444.6,272.7 444.3,272.8 444.0,273.0 443.6,273.2 443.2,273.4 442.8,273.6 442.5,273.9 442.1,274.1 441.7,274.4 441.4,274.7 441.1,275.0 440.8,275.3 440.6,275.7 440.4,276.0 440.2,276.4 440.0,276.8 439.9,277.2 439.3,277.2 439.2,276.8 439.0,276.4 438.8,276.0 438.6,275.7 438.4,275.3 438.1,275.0 437.8,274.7 437.5,274.4 437.1,274.1 436.7,273.9 436.4,273.6 436.0,273.4 435.6,273.2 435.2,273.0 434.9,272.8 434.6,272.7 434.3,272.5 434.1,272.4 433.9,272.3 433.8,272.3 433.7,272.2 433.7,272.2 433.9,272.2 434.1,272.1 434.4,272.0 434.7,271.8 435.1,271.6 435.5,271.3 435.9,271.1 436.2,270.8 436.6,270.4 436.9,270.1 437.3,269.7 437.6,269.2 437.8,268.8 438.1,268.3 438.3,267.8 438.5,267.2 438.7,266.7 438.9,266.1 439.0,265.4 439.1,264.8 439.2,264.1 439.3,263.4Z" fill="#f58c2c" stroke="#0a0a0a" stroke-width="0.5" stroke-linejoin="round"/>
<line x1="434.31" y1="272.20" x2="444.89" y2="272.20" stroke="#111" stroke-width="0.7"/>
<line x1="466.30" y1="254.70" x2="466.30" y2="301.00" stroke="#484848" stroke-width="0.65"/>
<path d="M466.6,266.1 466.7,266.7 466.8,267.2 466.9,267.6 467.0,268.1 467.1,268.5 467.3,269.0 467.5,269.4 467.7,269.7 468.0,270.1 468.3,270.4 468.6,270.7 469.0,271.0 469.4,271.3 469.9,271.6 470.4,271.8 471.0,272.0 471.7,272.2 472.5,272.3 473.3,272.4 474.2,272.5 475.2,272.6 476.1,272.6 475.2,272.6 474.2,272.7 473.3,272.8 472.5,272.9 471.7,273.0 471.0,273.2 470.4,273.4 469.9,273.6 469.4,273.9 469.0,274.2 468.6,274.5 468.3,274.8 468.0,275.1 467.7,275.5 467.5,275.8 467.3,276.2 467.1,276.7 467.0,277.1 466.9,277.6 466.8,278.0 466.7,278.5 466.6,279.1 466.0,279.1 465.9,278.5 465.8,278.0 465.7,277.6 465.6,277.1 465.5,276.7 465.3,276.2 465.1,275.8 464.9,275.5 464.6,275.1 464.3,274.8 464.0,274.5 463.6,274.2 463.2,273.9 462.7,273.6 462.2,273.4 461.6,273.2 460.9,273.0 460.1,272.9 459.3,272.8 458.4,272.7 457.4,272.6 456.5,272.6 457.4,272.6 458.4,272.5 459.3,272.4 460.1,272.3 460.9,272.2 461.6,272.0 462.2,271.8 462.7,271.6 463.2,271.3 463.6,271.0 464.0,270.7 464.3,270.4 464.6,270.1 464.9,269.7 465.1,269.4 465.3,269.0 465.5,268.5 465.6,268.1 465.7,267.6 465.8,267.2 465.9,266.7 466.0,266.1Z" fill="#8c3d15" stroke="#0a0a0a" stroke-width="0.5" stroke-linejoin="round"/>
<line x1="457.50" y1="272.60" x2="475.10" y2="272.60" stroke="#111" stroke-width="0.7"/>
<line x1="493.10" y1="256.40" x2="493.10" y2="301.00" stroke="#484848" stroke-width="0.65"/>
<path d="M493.4,267.7 493.5,268.1 493.7,268.5 493.8,268.9 494.1,269.3 494.3,269.6 494.6,269.9 494.9,270.3 495.3,270.5 495.7,270.8 496.1,271.1 496.6,271.3 497.1,271.6 497.7,271.8 498.2,272.0 498.7,272.2 499.3,272.3 499.8,272.4 500.2,272.6 500.6,272.7 501.0,272.7 501.2,272.8 501.3,272.8 501.2,272.8 501.0,272.9 500.6,272.9 500.2,273.0 499.8,273.2 499.3,273.3 498.7,273.4 498.2,273.6 497.7,273.8 497.1,274.0 496.6,274.3 496.1,274.5 495.7,274.8 495.3,275.1 494.9,275.3 494.6,275.7 494.3,276.0 494.1,276.3 493.8,276.7 493.7,277.1 493.5,277.5 493.4,277.9 492.8,277.9 492.7,277.5 492.5,277.1 492.4,276.7 492.1,276.3 491.9,276.0 491.6,275.7 491.3,275.3 490.9,275.1 490.5,274.8 490.1,274.5 489.6,274.3 489.1,274.0 488.5,273.8 488.0,273.6 487.5,273.4 486.9,273.3 486.4,273.2 486.0,273.0 485.6,272.9 485.2,272.9 485.0,272.8 484.9,272.8 485.0,272.8 485.2,272.7 485.6,272.7 486.0,272.6 486.4,272.4 486.9,272.3 487.5,272.2 488.0,272.0 488.5,271.8 489.1,271.6 489.6,271.3 490.1,271.1 490.5,270.8 490.9,270.5 491.3,270.3 491.6,269.9 491.9,269.6 492.1,269.3 492.4,268.9 492.5,268.5 492.7,268.1 492.8,267.7Z" fill="#f58c2c" stroke="#0a0a0a" stroke-width="0.5" stroke-linejoin="round"/>
<line x1="485.74" y1="272.80" x2="500.46" y2="272.80" stroke="#111" stroke-width="0.7"/>
<line x1="519.50" y1="255.60" x2="519.50" y2="301.00" stroke="#484848" stroke-width="0.65"/>
<path d="M519.8,267.0 519.8,267.5 519.9,268.0 520.0,268.4 520.1,268.9 520.2,269.3 520.3,269.7 520.5,270.1 520.6,270.5 520.8,270.8 521.0,271.2 521.3,271.5 521.6,271.8 521.9,272.0 522.3,272.3 522.7,272.5 523.3,272.7 523.9,272.9 524.6,273.0 525.4,273.1 526.4,273.2 527.7,273.3 529.4,273.3 528.1,273.3 526.9,273.4 525.9,273.5 525.1,273.6 524.3,273.7 523.7,273.8 523.1,274.0 522.6,274.2 522.2,274.4 521.8,274.6 521.5,274.9 521.2,275.2 521.0,275.5 520.8,275.8 520.6,276.1 520.4,276.4 520.3,276.8 520.1,277.2 520.0,277.6 519.9,278.0 519.9,278.4 519.8,278.8 519.2,278.8 519.1,278.4 519.1,278.0 519.0,277.6 518.9,277.2 518.7,276.8 518.6,276.4 518.4,276.1 518.2,275.8 518.0,275.5 517.8,275.2 517.5,274.9 517.2,274.6 516.8,274.4 516.4,274.2 515.9,274.0 515.3,273.8 514.7,273.7 513.9,273.6 513.1,273.5 512.1,273.4 510.9,273.3 509.6,273.3 511.3,273.3 512.6,273.2 513.6,273.1 514.4,273.0 515.1,272.9 515.7,272.7 516.3,272.5 516.7,272.3 517.1,272.0 517.4,271.8 517.7,271.5 518.0,271.2 518.2,270.8 518.4,270.5 518.5,270.1 518.7,269.7 518.8,269.3 518.9,268.9 519.0,268.4 519.1,268.0 519.2,267.5 519.2,267.0Z" fill="#8c3d15" stroke="#0a0a0a" stroke-width="0.5" stroke-linejoin="round"/>
<line x1="510.61" y1="273.30" x2="528.39" y2="273.30" stroke="#111" stroke-width="0.7"/>
<line x1="546.40" y1="250.30" x2="546.40" y2="301.00" stroke="#777" stroke-width="1.0"/>
<path d="M546.7,267.2 546.7,267.7 546.8,268.2 546.9,268.6 547.0,269.1 547.1,269.5 547.3,269.9 547.4,270.3 547.6,270.6 547.8,270.9 548.1,271.3 548.4,271.6 548.7,271.8 549.1,272.1 549.5,272.3 550.0,272.5 550.7,272.7 551.4,272.9 552.2,273.0 553.3,273.1 554.5,273.2 556.0,273.3 558.2,273.3 556.0,273.3 554.5,273.4 553.3,273.5 552.2,273.6 551.4,273.7 550.7,273.9 550.0,274.1 549.5,274.3 549.1,274.5 548.7,274.8 548.4,275.0 548.1,275.3 547.8,275.7 547.6,276.0 547.4,276.3 547.3,276.7 547.1,277.1 547.0,277.5 546.9,278.0 546.8,278.4 546.7,278.9 546.7,279.4 546.1,279.4 546.1,278.9 546.0,278.4 545.9,278.0 545.8,277.5 545.7,277.1 545.5,276.7 545.4,276.3 545.2,276.0 545.0,275.7 544.7,275.3 544.4,275.0 544.1,274.8 543.7,274.5 543.3,274.3 542.8,274.1 542.1,273.9 541.4,273.7 540.6,273.6 539.5,273.5 538.3,273.4 536.8,273.3 534.6,273.3 536.8,273.3 538.3,273.2 539.5,273.1 540.6,273.0 541.4,272.9 542.1,272.7 542.8,272.5 543.3,272.3 543.7,272.1 544.1,271.8 544.4,271.6 544.7,271.3 545.0,270.9 545.2,270.6 545.4,270.3 545.5,269.9 545.7,269.5 545.8,269.1 545.9,268.6 546.0,268.2 546.1,267.7 546.1,267.2Z" fill="#f58c2c" stroke="#0a0a0a" stroke-width="0.5" stroke-linejoin="round"/>
<line x1="535.80" y1="273.30" x2="557.00" y2="273.30" stroke="#111" stroke-width="0.7"/>
<line x1="413.20" y1="310.70" x2="413.20" y2="348.40" stroke="#484848" stroke-width="0.65"/>
<path d="M413.6,311.1 413.6,312.4 413.7,313.7 413.9,314.9 414.1,316.1 414.4,317.2 414.7,318.3 415.0,319.3 415.4,320.2 415.9,321.1 416.4,322.0 416.9,322.8 417.5,323.5 418.0,324.2 418.6,324.8 419.2,325.4 419.8,325.9 420.3,326.4 420.8,326.7 421.1,327.0 421.5,327.3 421.7,327.4 421.7,327.5 421.7,327.5 421.7,327.6 421.7,327.7 421.6,327.8 421.5,327.9 421.4,328.1 421.1,328.3 420.8,328.5 420.5,328.8 420.0,329.0 419.4,329.3 418.8,329.6 418.2,329.9 417.5,330.3 416.8,330.7 416.1,331.0 415.5,331.4 414.9,331.9 414.5,332.3 414.0,332.8 413.7,333.3 413.5,333.8 412.9,333.8 412.7,333.3 412.4,332.8 411.9,332.3 411.5,331.9 410.9,331.4 410.3,331.0 409.6,330.7 408.9,330.3 408.2,329.9 407.6,329.6 407.0,329.3 406.4,329.0 405.9,328.8 405.6,328.5 405.3,328.3 405.0,328.1 404.9,327.9 404.8,327.8 404.7,327.7 404.7,327.6 404.7,327.5 404.7,327.5 404.7,327.4 404.9,327.3 405.3,327.0 405.6,326.7 406.1,326.4 406.6,325.9 407.2,325.4 407.8,324.8 408.4,324.2 408.9,323.5 409.5,322.8 410.0,322.0 410.5,321.1 411.0,320.2 411.4,319.3 411.7,318.3 412.0,317.2 412.3,316.1 412.5,314.9 412.7,313.7 412.8,312.4 412.8,311.1Z" fill="#413e90" stroke="#0a0a0a" stroke-width="0.5" stroke-linejoin="round"/>
<line x1="406.67" y1="326.50" x2="419.73" y2="326.50" stroke="#111" stroke-width="0.7"/>
<line x1="439.60" y1="310.70" x2="439.60" y2="342.70" stroke="#484848" stroke-width="0.65"/>
<path d="M440.0,311.1 440.0,312.4 440.1,313.7 440.3,314.9 440.6,316.0 440.8,317.1 441.1,318.2 441.5,319.2 441.9,320.1 442.4,321.0 442.9,321.9 443.4,322.6 443.9,323.4 444.5,324.1 445.1,324.7 445.7,325.2 446.3,325.7 446.8,326.2 447.3,326.5 447.6,326.9 448.0,327.1 448.2,327.2 448.2,327.3 448.2,327.3 448.2,327.4 448.2,327.4 448.1,327.5 447.9,327.7 447.7,327.8 447.4,328.0 447.1,328.2 446.6,328.4 446.1,328.6 445.5,328.8 444.9,329.1 444.3,329.4 443.6,329.6 442.9,330.0 442.3,330.3 441.7,330.6 441.2,331.0 440.8,331.4 440.4,331.8 440.1,332.2 439.9,332.6 439.3,332.6 439.1,332.2 438.8,331.8 438.4,331.4 438.0,331.0 437.5,330.6 436.9,330.3 436.3,330.0 435.6,329.6 434.9,329.4 434.3,329.1 433.7,328.8 433.1,328.6 432.6,328.4 432.1,328.2 431.8,328.0 431.5,327.8 431.3,327.7 431.1,327.5 431.0,327.4 431.0,327.4 431.0,327.3 431.0,327.3 431.0,327.2 431.2,327.1 431.6,326.9 431.9,326.5 432.4,326.2 432.9,325.7 433.5,325.2 434.1,324.7 434.7,324.1 435.3,323.4 435.8,322.6 436.3,321.9 436.8,321.0 437.3,320.1 437.7,319.2 438.1,318.2 438.4,317.1 438.6,316.0 438.9,314.9 439.1,313.7 439.2,312.4 439.2,311.1Z" fill="#aaa7dd" stroke="#0a0a0a" stroke-width="0.5" stroke-linejoin="round"/>
<line x1="434.05" y1="325.30" x2="445.15" y2="325.30" stroke="#111" stroke-width="0.7"/>
<line x1="466.30" y1="310.70" x2="466.30" y2="351.70" stroke="#484848" stroke-width="0.65"/>
<path d="M466.7,311.1 466.7,312.6 466.7,314.1 466.7,315.5 466.8,316.9 467.0,318.2 467.3,319.4 467.5,320.6 467.9,321.7 468.3,322.8 468.7,323.8 469.2,324.7 469.7,325.6 470.3,326.4 470.9,327.1 471.4,327.8 472.0,328.4 472.5,328.9 473.0,329.3 473.5,329.7 473.8,329.9 474.0,330.1 474.1,330.2 474.1,330.2 474.1,330.3 474.0,330.4 474.0,330.5 473.8,330.6 473.7,330.8 473.4,331.0 473.1,331.2 472.8,331.4 472.3,331.7 471.8,331.9 471.3,332.2 470.7,332.5 470.1,332.9 469.5,333.2 468.9,333.6 468.4,334.0 467.9,334.4 467.4,334.8 467.1,335.3 466.8,335.7 466.6,336.2 466.0,336.2 465.8,335.7 465.5,335.3 465.2,334.8 464.7,334.4 464.2,334.0 463.7,333.6 463.1,333.2 462.5,332.9 461.9,332.5 461.3,332.2 460.8,331.9 460.3,331.7 459.8,331.4 459.5,331.2 459.2,331.0 458.9,330.8 458.8,330.6 458.6,330.5 458.6,330.4 458.5,330.3 458.5,330.2 458.5,330.2 458.6,330.1 458.8,329.9 459.1,329.7 459.6,329.3 460.1,328.9 460.6,328.4 461.2,327.8 461.7,327.1 462.3,326.4 462.9,325.6 463.4,324.7 463.9,323.8 464.3,322.8 464.7,321.7 465.1,320.6 465.3,319.4 465.6,318.2 465.8,316.9 465.9,315.5 465.9,314.1 465.9,312.6 465.9,311.1Z" fill="#413e90" stroke="#0a0a0a" stroke-width="0.5" stroke-linejoin="round"/>
<line x1="460.25" y1="329.30" x2="472.35" y2="329.30" stroke="#111" stroke-width="0.7"/>
<line x1="493.10" y1="310.70" x2="493.10" y2="357.60" stroke="#484848" stroke-width="0.65"/>
<path d="M493.5,311.1 493.5,312.7 493.5,314.3 493.5,315.7 493.5,317.2 493.5,318.5 493.5,319.8 493.6,321.1 493.9,322.2 494.2,323.3 494.5,324.4 495.0,325.4 495.5,326.3 496.1,327.1 496.9,327.9 497.6,328.6 498.5,329.2 499.4,329.7 500.2,330.2 501.1,330.5 501.8,330.8 502.3,331.0 502.6,331.1 502.5,331.1 502.4,331.2 502.2,331.3 501.9,331.4 501.5,331.6 501.0,331.8 500.5,332.0 499.9,332.2 499.2,332.5 498.6,332.8 497.9,333.1 497.3,333.4 496.7,333.8 496.1,334.1 495.6,334.6 495.1,335.0 494.7,335.4 494.3,335.9 494.0,336.4 493.8,336.9 493.5,337.4 493.4,338.0 492.8,338.0 492.7,337.4 492.4,336.9 492.2,336.4 491.9,335.9 491.5,335.4 491.1,335.0 490.6,334.6 490.1,334.1 489.5,333.8 488.9,333.4 488.3,333.1 487.6,332.8 487.0,332.5 486.3,332.2 485.7,332.0 485.2,331.8 484.7,331.6 484.3,331.4 484.0,331.3 483.8,331.2 483.7,331.1 483.6,331.1 483.9,331.0 484.4,330.8 485.1,330.5 486.0,330.2 486.8,329.7 487.7,329.2 488.6,328.6 489.3,327.9 490.1,327.1 490.7,326.3 491.2,325.4 491.7,324.4 492.0,323.3 492.3,322.2 492.6,321.1 492.7,319.8 492.7,318.5 492.7,317.2 492.7,315.7 492.7,314.3 492.7,312.7 492.7,311.1Z" fill="#aaa7dd" stroke="#0a0a0a" stroke-width="0.5" stroke-linejoin="round"/>
<line x1="486.23" y1="330.40" x2="499.97" y2="330.40" stroke="#111" stroke-width="0.7"/>
<line x1="519.50" y1="310.70" x2="519.50" y2="356.70" stroke="#484848" stroke-width="0.65"/>
<path d="M519.9,311.1 519.9,312.9 519.9,314.6 519.9,316.2 519.9,317.8 519.9,319.3 519.9,320.8 519.9,322.2 520.0,323.5 520.2,324.7 520.4,325.8 520.7,326.9 521.0,327.9 521.5,328.9 522.0,329.7 522.6,330.5 523.3,331.2 524.2,331.8 525.3,332.3 526.5,332.7 528.0,333.0 529.7,333.2 531.6,333.3 531.2,333.3 530.5,333.4 529.7,333.6 528.9,333.8 527.9,334.1 527.0,334.4 526.2,334.7 525.3,335.1 524.6,335.5 523.9,336.0 523.2,336.5 522.6,337.1 522.1,337.6 521.7,338.3 521.3,338.9 521.0,339.6 520.7,340.3 520.4,341.1 520.2,341.9 520.0,342.7 519.9,343.6 519.8,344.5 519.2,344.5 519.1,343.6 519.0,342.7 518.8,341.9 518.6,341.1 518.3,340.3 518.0,339.6 517.7,338.9 517.3,338.3 516.9,337.6 516.4,337.1 515.8,336.5 515.1,336.0 514.4,335.5 513.7,335.1 512.8,334.7 512.0,334.4 511.1,334.1 510.1,333.8 509.3,333.6 508.5,333.4 507.8,333.3 507.4,333.3 509.3,333.2 511.0,333.0 512.5,332.7 513.7,332.3 514.8,331.8 515.7,331.2 516.4,330.5 517.0,329.7 517.5,328.9 518.0,327.9 518.3,326.9 518.6,325.8 518.8,324.7 519.0,323.5 519.1,322.2 519.1,320.8 519.1,319.3 519.1,317.8 519.1,316.2 519.1,314.6 519.1,312.9 519.1,311.1Z" fill="#413e90" stroke="#0a0a0a" stroke-width="0.5" stroke-linejoin="round"/>
<line x1="508.63" y1="333.30" x2="530.37" y2="333.30" stroke="#111" stroke-width="0.7"/>
<line x1="546.40" y1="310.70" x2="546.40" y2="362.20" stroke="#484848" stroke-width="0.65"/>
<path d="M546.8,311.1 546.8,312.9 546.8,314.6 546.8,316.2 546.8,317.8 546.8,319.3 546.8,320.8 546.8,322.2 546.8,323.5 547.0,324.7 547.1,325.8 547.3,326.9 547.6,327.9 547.9,328.9 548.3,329.7 548.8,330.5 549.3,331.2 550.1,331.8 551.0,332.3 552.1,332.7 553.5,333.0 555.4,333.2 558.1,333.3 556.9,333.4 555.6,333.5 554.4,333.8 553.4,334.1 552.5,334.5 551.7,334.9 550.9,335.4 550.3,336.0 549.7,336.6 549.3,337.3 548.8,338.1 548.5,338.9 548.2,339.7 547.9,340.7 547.6,341.6 547.4,342.7 547.3,343.7 547.1,344.9 547.0,346.0 546.9,347.3 546.8,348.6 546.7,349.9 546.1,349.9 546.0,348.6 545.9,347.3 545.8,346.0 545.7,344.9 545.5,343.7 545.4,342.7 545.2,341.6 544.9,340.7 544.6,339.7 544.3,338.9 544.0,338.1 543.5,337.3 543.1,336.6 542.5,336.0 541.9,335.4 541.1,334.9 540.3,334.5 539.4,334.1 538.4,333.8 537.2,333.5 535.9,333.4 534.7,333.3 537.4,333.2 539.3,333.0 540.7,332.7 541.8,332.3 542.7,331.8 543.5,331.2 544.0,330.5 544.5,329.7 544.9,328.9 545.2,327.9 545.5,326.9 545.7,325.8 545.8,324.7 546.0,323.5 546.0,322.2 546.0,320.8 546.0,319.3 546.0,317.8 546.0,316.2 546.0,314.6 546.0,312.9 546.0,311.1Z" fill="#aaa7dd" stroke="#0a0a0a" stroke-width="0.5" stroke-linejoin="round"/>
<line x1="535.84" y1="333.30" x2="556.96" y2="333.30" stroke="#111" stroke-width="0.7"/>
<line x1="397.1" y1="214.8" x2="562.6" y2="214.8" stroke="#ff3b3b" stroke-width="1.3" stroke-opacity="0.32"/>
<line x1="397.1" y1="275.3" x2="562.6" y2="275.3" stroke="#ff2d3d" stroke-width="0.6" stroke-opacity="0.85"/>
<line x1="397.1" y1="336.4" x2="562.6" y2="336.4" stroke="#ff2d3d" stroke-width="0.6" stroke-opacity="0.85"/>
<line x1="453.20" y1="189.50" x2="453.20" y2="240.10" stroke="#555" stroke-width="0.9"/>
<line x1="506.50" y1="189.50" x2="506.50" y2="240.10" stroke="#555" stroke-width="0.9"/>
<rect x="397.10" y="189.50" width="165.50" height="50.60" fill="none" stroke="#6e6e6e" stroke-width="0.95"/>
<line x1="453.20" y1="250.30" x2="453.20" y2="301.00" stroke="#555" stroke-width="0.9"/>
<line x1="506.50" y1="250.30" x2="506.50" y2="301.00" stroke="#555" stroke-width="0.9"/>
<rect x="397.10" y="250.30" width="165.50" height="50.70" fill="none" stroke="#6e6e6e" stroke-width="0.95"/>
<line x1="453.20" y1="310.70" x2="453.20" y2="362.20" stroke="#555" stroke-width="0.9"/>
<line x1="506.50" y1="310.70" x2="506.50" y2="362.20" stroke="#555" stroke-width="0.9"/>
<rect x="397.10" y="310.70" width="165.50" height="51.50" fill="none" stroke="#6e6e6e" stroke-width="0.95"/>
<line x1="394.70" y1="191.40" x2="397.10" y2="191.40" stroke="#333" stroke-width="0.8"/>
<text x="390.20" y="195.10" font-size="10.8" text-anchor="end">2.0</text>
<line x1="394.70" y1="214.70" x2="397.10" y2="214.70" stroke="#333" stroke-width="0.8"/>
<text x="390.20" y="218.40" font-size="10.8" text-anchor="end">1.0</text>
<line x1="394.70" y1="238.20" x2="397.10" y2="238.20" stroke="#333" stroke-width="0.8"/>
<text x="390.20" y="241.90" font-size="10.8" text-anchor="end">0.0</text>
<line x1="395.50" y1="203.10" x2="397.10" y2="203.10" stroke="#333" stroke-width="0.6"/>
<line x1="395.50" y1="226.40" x2="397.10" y2="226.40" stroke="#333" stroke-width="0.6"/>
<line x1="394.70" y1="252.20" x2="397.10" y2="252.20" stroke="#333" stroke-width="0.8"/>
<text x="390.20" y="255.90" font-size="10.8" text-anchor="end">1.0</text>
<line x1="394.70" y1="275.50" x2="397.10" y2="275.50" stroke="#333" stroke-width="0.8"/>
<text x="390.20" y="279.20" font-size="10.8" text-anchor="end">0.0</text>
<line x1="394.70" y1="299.10" x2="397.10" y2="299.10" stroke="#333" stroke-width="0.8"/>
<text x="390.20" y="302.80" font-size="10.8" text-anchor="end">−1.0</text>
<line x1="395.50" y1="263.90" x2="397.10" y2="263.90" stroke="#333" stroke-width="0.6"/>
<line x1="395.50" y1="287.30" x2="397.10" y2="287.30" stroke="#333" stroke-width="0.6"/>
<line x1="394.70" y1="311.20" x2="397.10" y2="311.20" stroke="#333" stroke-width="0.8"/>
<text x="390.20" y="314.90" font-size="10.8" text-anchor="end">−0.5</text>
<line x1="394.70" y1="334.50" x2="397.10" y2="334.50" stroke="#333" stroke-width="0.8"/>
<text x="390.20" y="338.20" font-size="10.8" text-anchor="end">−1.5</text>
<line x1="394.70" y1="357.80" x2="397.10" y2="357.80" stroke="#333" stroke-width="0.8"/>
<text x="390.20" y="361.50" font-size="10.8" text-anchor="end">−2.5</text>
<line x1="395.50" y1="322.90" x2="397.10" y2="322.90" stroke="#333" stroke-width="0.6"/>
<line x1="395.50" y1="346.20" x2="397.10" y2="346.20" stroke="#333" stroke-width="0.6"/>
<text transform="translate(358.9,273.5) rotate(-90)" font-size="9.6" text-anchor="middle">Log<tspan font-size="6" dy="2">2</tspan><tspan dy="-2"> (A/B)</tspan></text>
<text transform="translate(428.20,370.00) rotate(-45)" font-size="10.7" text-anchor="end">G_nLC_tTOF</text>
<text transform="translate(481.70,370.00) rotate(-45)" font-size="10.7" text-anchor="end">G_ulti_ex</text>
<text transform="translate(534.70,370.00) rotate(-45)" font-size="10.7" text-anchor="end">H_ulti_ex</text>
<text x="569.20" y="197.90" font-size="9.8" font-weight="bold" font-style="italic" fill="#1f6b53">E. coli</text>
<rect x="570.00" y="207.30" width="4.20" height="8.60" fill="#1f6b53"/>
<text x="578.50" y="214.90" font-size="9.7">round robin</text>
<rect x="570.00" y="218.60" width="4.20" height="8.40" fill="#5cc19d"/>
<text x="578.50" y="225.70" font-size="9.7">site L</text>
<text x="568.80" y="258.70" font-size="9.7" font-weight="bold" fill="#9a4a22">Human</text>
<rect x="569.60" y="269.80" width="4.20" height="8.50" fill="#8c3d15"/>
<text x="578.00" y="277.50" font-size="9.7">round robin</text>
<rect x="569.60" y="280.80" width="4.20" height="8.40" fill="#f58c2c"/>
<text x="578.00" y="288.00" font-size="9.7">site L</text>
<text x="570.50" y="319.90" font-size="9.7" font-weight="bold" fill="#4a4896">Yeast</text>
<rect x="571.30" y="329.00" width="4.20" height="8.50" fill="#413e90"/>
<text x="579.30" y="336.60" font-size="9.7">round robin</text>
<rect x="571.30" y="340.00" width="4.20" height="8.50" fill="#aaa7dd"/>
<text x="579.30" y="347.10" font-size="9.7">site L</text>
</g>
<g id="panel-d">
<text x="8.60" y="392.30" font-size="14" font-weight="bold">d</text>
<text x="75.70" y="406.90" font-size="10.3" font-weight="bold">PYE1</text>
<text x="75.70" y="419.60" font-size="10.6">Proteins</text>
<rect x="81.55" y="442.80" width="14.80" height="88.50" fill="#3b4567" stroke="#2c3763" stroke-width="0.7"/>
<circle cx="84.55" cy="444.55" r="1.45" fill="none" stroke="#e6ebfb" stroke-width="0.7" stroke-opacity="0.6"/>
<circle cx="86.75" cy="445.05" r="1.45" fill="none" stroke="#e6ebfb" stroke-width="0.7" stroke-opacity="0.6"/>
<circle cx="89.05" cy="444.55" r="1.45" fill="none" stroke="#e6ebfb" stroke-width="0.7" stroke-opacity="0.6"/>
<circle cx="91.25" cy="445.05" r="1.45" fill="none" stroke="#e6ebfb" stroke-width="0.7" stroke-opacity="0.6"/>
<circle cx="93.35" cy="444.55" r="1.45" fill="none" stroke="#e6ebfb" stroke-width="0.7" stroke-opacity="0.6"/>
<circle cx="85.05" cy="441.80" r="1.45" fill="none" stroke="#dde4f8" stroke-width="0.6"/>
<circle cx="87.65" cy="441.80" r="1.45" fill="none" stroke="#dde4f8" stroke-width="0.6"/>
<circle cx="90.35" cy="441.80" r="1.45" fill="none" stroke="#dde4f8" stroke-width="0.6"/>
<circle cx="92.95" cy="441.80" r="1.45" fill="none" stroke="#dde4f8" stroke-width="0.6"/>
<line x1="88.95" y1="441.80" x2="88.95" y2="443.80" stroke="#000" stroke-width="1.0"/>
<line x1="84.75" y1="441.80" x2="93.15" y2="441.80" stroke="#000" stroke-width="1.1" stroke-dasharray="2 0.5"/>
<line x1="84.75" y1="443.80" x2="93.15" y2="443.80" stroke="#000" stroke-width="1.1" stroke-dasharray="2 0.5"/>
<rect x="105.25" y="441.00" width="14.50" height="90.30" fill="#7086c5" stroke="#2c3763" stroke-width="0.7"/>
<circle cx="108.10" cy="442.72" r="1.45" fill="none" stroke="#e6ebfb" stroke-width="0.7" stroke-opacity="0.6"/>
<circle cx="110.30" cy="443.22" r="1.45" fill="none" stroke="#e6ebfb" stroke-width="0.7" stroke-opacity="0.6"/>
<circle cx="112.60" cy="442.72" r="1.45" fill="none" stroke="#e6ebfb" stroke-width="0.7" stroke-opacity="0.6"/>
<circle cx="114.80" cy="443.22" r="1.45" fill="none" stroke="#e6ebfb" stroke-width="0.7" stroke-opacity="0.6"/>
<circle cx="116.90" cy="442.72" r="1.45" fill="none" stroke="#e6ebfb" stroke-width="0.7" stroke-opacity="0.6"/>
<circle cx="108.60" cy="440.10" r="1.45" fill="none" stroke="#dde4f8" stroke-width="0.6"/>
<circle cx="111.20" cy="440.10" r="1.45" fill="none" stroke="#dde4f8" stroke-width="0.6"/>
<circle cx="113.90" cy="440.10" r="1.45" fill="none" stroke="#dde4f8" stroke-width="0.6"/>
<circle cx="116.50" cy="440.10" r="1.45" fill="none" stroke="#dde4f8" stroke-width="0.6"/>
<line x1="112.50" y1="440.10" x2="112.50" y2="441.90" stroke="#000" stroke-width="1.0"/>
<line x1="108.30" y1="440.10" x2="116.70" y2="440.10" stroke="#000" stroke-width="1.1" stroke-dasharray="2 0.5"/>
<line x1="108.30" y1="441.90" x2="116.70" y2="441.90" stroke="#000" stroke-width="1.1" stroke-dasharray="2 0.5"/>
<rect x="128.65" y="464.30" width="14.80" height="67.00" fill="#7086c5" stroke="#2c3763" stroke-width="0.7"/>
<circle cx="131.65" cy="465.98" r="1.45" fill="none" stroke="#e6ebfb" stroke-width="0.7" stroke-opacity="0.6"/>
<circle cx="133.85" cy="466.48" r="1.45" fill="none" stroke="#e6ebfb" stroke-width="0.7" stroke-opacity="0.6"/>
<circle cx="136.15" cy="465.98" r="1.45" fill="none" stroke="#e6ebfb" stroke-width="0.7" stroke-opacity="0.6"/>
<circle cx="138.35" cy="466.48" r="1.45" fill="none" stroke="#e6ebfb" stroke-width="0.7" stroke-opacity="0.6"/>
<circle cx="140.45" cy="465.98" r="1.45" fill="none" stroke="#e6ebfb" stroke-width="0.7" stroke-opacity="0.6"/>
<circle cx="132.15" cy="463.50" r="1.45" fill="none" stroke="#dde4f8" stroke-width="0.6"/>
<circle cx="134.75" cy="463.50" r="1.45" fill="none" stroke="#dde4f8" stroke-width="0.6"/>
<circle cx="137.45" cy="463.50" r="1.45" fill="none" stroke="#dde4f8" stroke-width="0.6"/>
<circle cx="140.05" cy="463.50" r="1.45" fill="none" stroke="#dde4f8" stroke-width="0.6"/>
<line x1="136.05" y1="463.50" x2="136.05" y2="465.10" stroke="#000" stroke-width="1.0"/>
<line x1="131.85" y1="463.50" x2="140.25" y2="463.50" stroke="#000" stroke-width="1.1" stroke-dasharray="2 0.5"/>
<line x1="131.85" y1="465.10" x2="140.25" y2="465.10" stroke="#000" stroke-width="1.1" stroke-dasharray="2 0.5"/>
<rect x="152.35" y="464.30" width="14.80" height="67.00" fill="#7086c5" stroke="#2c3763" stroke-width="0.7"/>
<circle cx="155.35" cy="465.98" r="1.45" fill="none" stroke="#e6ebfb" stroke-width="0.7" stroke-opacity="0.6"/>
<circle cx="157.55" cy="466.48" r="1.45" fill="none" stroke="#e6ebfb" stroke-width="0.7" stroke-opacity="0.6"/>
<circle cx="159.85" cy="465.98" r="1.45" fill="none" stroke="#e6ebfb" stroke-width="0.7" stroke-opacity="0.6"/>
<circle cx="162.05" cy="466.48" r="1.45" fill="none" stroke="#e6ebfb" stroke-width="0.7" stroke-opacity="0.6"/>
<circle cx="164.15" cy="465.98" r="1.45" fill="none" stroke="#e6ebfb" stroke-width="0.7" stroke-opacity="0.6"/>
<circle cx="155.85" cy="463.50" r="1.45" fill="none" stroke="#dde4f8" stroke-width="0.6"/>
<circle cx="158.45" cy="463.50" r="1.45" fill="none" stroke="#dde4f8" stroke-width="0.6"/>
<circle cx="161.15" cy="463.50" r="1.45" fill="none" stroke="#dde4f8" stroke-width="0.6"/>
<circle cx="163.75" cy="463.50" r="1.45" fill="none" stroke="#dde4f8" stroke-width="0.6"/>
<line x1="159.75" y1="463.50" x2="159.75" y2="465.10" stroke="#000" stroke-width="1.0"/>
<line x1="155.55" y1="463.50" x2="163.95" y2="463.50" stroke="#000" stroke-width="1.1" stroke-dasharray="2 0.5"/>
<line x1="155.55" y1="465.10" x2="163.95" y2="465.10" stroke="#000" stroke-width="1.1" stroke-dasharray="2 0.5"/>
<line x1="73.50" y1="428.10" x2="73.50" y2="531.90" stroke="#000" stroke-width="1.2"/>
<line x1="72.90" y1="531.30" x2="175.70" y2="531.30" stroke="#000" stroke-width="1.2"/>
<line x1="68.50" y1="428.70" x2="73.50" y2="428.70" stroke="#000" stroke-width="1.0999999999999999"/>
<text x="66.00" y="432.51" font-size="10.6" text-anchor="end">5000</text>
<line x1="68.50" y1="449.22" x2="73.50" y2="449.22" stroke="#000" stroke-width="1.0999999999999999"/>
<text x="66.00" y="453.03" font-size="10.6" text-anchor="end">4000</text>
<line x1="68.50" y1="469.74" x2="73.50" y2="469.74" stroke="#000" stroke-width="1.0999999999999999"/>
<text x="66.00" y="473.55" font-size="10.6" text-anchor="end">3000</text>
<line x1="68.50" y1="490.26" x2="73.50" y2="490.26" stroke="#000" stroke-width="1.0999999999999999"/>
<text x="66.00" y="494.07" font-size="10.6" text-anchor="end">2000</text>
<line x1="68.50" y1="510.78" x2="73.50" y2="510.78" stroke="#000" stroke-width="1.0999999999999999"/>
<text x="66.00" y="514.59" font-size="10.6" text-anchor="end">1000</text>
<line x1="68.50" y1="531.30" x2="73.50" y2="531.30" stroke="#000" stroke-width="1.0999999999999999"/>
<text x="66.00" y="535.11" font-size="10.6" text-anchor="end">0</text>
<line x1="88.90" y1="531.30" x2="88.90" y2="535.60" stroke="#000" stroke-width="1.2"/>
<line x1="112.50" y1="531.30" x2="112.50" y2="535.60" stroke="#000" stroke-width="1.2"/>
<line x1="136.00" y1="531.30" x2="136.00" y2="535.60" stroke="#000" stroke-width="1.2"/>
<line x1="159.70" y1="531.30" x2="159.70" y2="535.60" stroke="#000" stroke-width="1.2"/>
<text transform="translate(32.80,479.00) rotate(-90)" font-size="10.6" text-anchor="middle">No. of identified proteins</text>
<text x="43.80" y="545.60" font-size="10" font-weight="bold">LC</text>
<text x="43.80" y="559.80" font-size="10" font-weight="bold">MS</text>
<text x="88.90" y="546.00" font-size="10.6" text-anchor="middle">G</text>
<text x="88.90" y="560.00" font-size="10.6" text-anchor="middle">G</text>
<text x="112.50" y="546.00" font-size="10.6" text-anchor="middle">G</text>
<text x="112.50" y="560.00" font-size="10.6" text-anchor="middle">G</text>
<text x="136.50" y="546.00" font-size="10.6" text-anchor="middle">L</text>
<text x="136.50" y="560.00" font-size="10.6" text-anchor="middle">L</text>
<text x="161.30" y="546.00" font-size="10.6" text-anchor="middle">L</text>
<text x="162.00" y="560.00" font-size="10.6" text-anchor="middle">G</text>
<text x="249.60" y="419.60" font-size="10.6">Peptides</text>
<rect x="254.75" y="435.50" width="14.80" height="95.80" fill="#3b4567" stroke="#2c3763" stroke-width="0.7"/>
<circle cx="257.75" cy="437.95" r="1.45" fill="none" stroke="#e6ebfb" stroke-width="0.7" stroke-opacity="0.6"/>
<circle cx="259.95" cy="438.45" r="1.45" fill="none" stroke="#e6ebfb" stroke-width="0.7" stroke-opacity="0.6"/>
<circle cx="262.25" cy="437.95" r="1.45" fill="none" stroke="#e6ebfb" stroke-width="0.7" stroke-opacity="0.6"/>
<circle cx="264.45" cy="438.45" r="1.45" fill="none" stroke="#e6ebfb" stroke-width="0.7" stroke-opacity="0.6"/>
<circle cx="266.55" cy="437.95" r="1.45" fill="none" stroke="#e6ebfb" stroke-width="0.7" stroke-opacity="0.6"/>
<circle cx="258.25" cy="432.50" r="1.45" fill="none" stroke="#dde4f8" stroke-width="0.6"/>
<circle cx="260.85" cy="432.50" r="1.45" fill="none" stroke="#dde4f8" stroke-width="0.6"/>
<circle cx="263.55" cy="432.50" r="1.45" fill="none" stroke="#dde4f8" stroke-width="0.6"/>
<circle cx="266.15" cy="432.50" r="1.45" fill="none" stroke="#dde4f8" stroke-width="0.6"/>
<line x1="262.15" y1="432.50" x2="262.15" y2="438.50" stroke="#000" stroke-width="1.0"/>
<line x1="257.95" y1="432.50" x2="266.35" y2="432.50" stroke="#000" stroke-width="1.1" stroke-dasharray="2 0.5"/>
<line x1="257.95" y1="438.50" x2="266.35" y2="438.50" stroke="#000" stroke-width="1.1" stroke-dasharray="2 0.5"/>
<rect x="278.75" y="435.50" width="14.80" height="95.80" fill="#7086c5" stroke="#2c3763" stroke-width="0.7"/>
<circle cx="281.75" cy="437.74" r="1.45" fill="none" stroke="#e6ebfb" stroke-width="0.7" stroke-opacity="0.6"/>
<circle cx="283.95" cy="438.24" r="1.45" fill="none" stroke="#e6ebfb" stroke-width="0.7" stroke-opacity="0.6"/>
<circle cx="286.25" cy="437.74" r="1.45" fill="none" stroke="#e6ebfb" stroke-width="0.7" stroke-opacity="0.6"/>
<circle cx="288.45" cy="438.24" r="1.45" fill="none" stroke="#e6ebfb" stroke-width="0.7" stroke-opacity="0.6"/>
<circle cx="290.55" cy="437.74" r="1.45" fill="none" stroke="#e6ebfb" stroke-width="0.7" stroke-opacity="0.6"/>
<circle cx="282.25" cy="433.10" r="1.45" fill="none" stroke="#dde4f8" stroke-width="0.6"/>
<circle cx="284.85" cy="433.10" r="1.45" fill="none" stroke="#dde4f8" stroke-width="0.6"/>
<circle cx="287.55" cy="433.10" r="1.45" fill="none" stroke="#dde4f8" stroke-width="0.6"/>
<circle cx="290.15" cy="433.10" r="1.45" fill="none" stroke="#dde4f8" stroke-width="0.6"/>
<line x1="286.15" y1="433.10" x2="286.15" y2="437.90" stroke="#000" stroke-width="1.0"/>
<line x1="281.95" y1="433.10" x2="290.35" y2="433.10" stroke="#000" stroke-width="1.1" stroke-dasharray="2 0.5"/>
<line x1="281.95" y1="437.90" x2="290.35" y2="437.90" stroke="#000" stroke-width="1.1" stroke-dasharray="2 0.5"/>
<rect x="302.35" y="468.50" width="14.80" height="62.80" fill="#7086c5" stroke="#2c3763" stroke-width="0.7"/>
<circle cx="305.35" cy="470.43" r="1.45" fill="none" stroke="#e6ebfb" stroke-width="0.7" stroke-opacity="0.6"/>
<circle cx="307.55" cy="470.93" r="1.45" fill="none" stroke="#e6ebfb" stroke-width="0.7" stroke-opacity="0.6"/>
<circle cx="309.85" cy="470.43" r="1.45" fill="none" stroke="#e6ebfb" stroke-width="0.7" stroke-opacity="0.6"/>
<circle cx="312.05" cy="470.93" r="1.45" fill="none" stroke="#e6ebfb" stroke-width="0.7" stroke-opacity="0.6"/>
<circle cx="314.15" cy="470.43" r="1.45" fill="none" stroke="#e6ebfb" stroke-width="0.7" stroke-opacity="0.6"/>
<circle cx="305.85" cy="467.00" r="1.45" fill="none" stroke="#dde4f8" stroke-width="0.6"/>
<circle cx="308.45" cy="467.00" r="1.45" fill="none" stroke="#dde4f8" stroke-width="0.6"/>
<circle cx="311.15" cy="467.00" r="1.45" fill="none" stroke="#dde4f8" stroke-width="0.6"/>
<circle cx="313.75" cy="467.00" r="1.45" fill="none" stroke="#dde4f8" stroke-width="0.6"/>
<line x1="309.75" y1="467.00" x2="309.75" y2="470.00" stroke="#000" stroke-width="1.0"/>
<line x1="305.55" y1="467.00" x2="313.95" y2="467.00" stroke="#000" stroke-width="1.1" stroke-dasharray="2 0.5"/>
<line x1="305.55" y1="470.00" x2="313.95" y2="470.00" stroke="#000" stroke-width="1.1" stroke-dasharray="2 0.5"/>
<rect x="325.55" y="468.80" width="14.80" height="62.50" fill="#7086c5" stroke="#2c3763" stroke-width="0.7"/>
<circle cx="328.55" cy="470.66" r="1.45" fill="none" stroke="#e6ebfb" stroke-width="0.7" stroke-opacity="0.6"/>
<circle cx="330.75" cy="471.16" r="1.45" fill="none" stroke="#e6ebfb" stroke-width="0.7" stroke-opacity="0.6"/>
<circle cx="333.05" cy="470.66" r="1.45" fill="none" stroke="#e6ebfb" stroke-width="0.7" stroke-opacity="0.6"/>
<circle cx="335.25" cy="471.16" r="1.45" fill="none" stroke="#e6ebfb" stroke-width="0.7" stroke-opacity="0.6"/>
<circle cx="337.35" cy="470.66" r="1.45" fill="none" stroke="#e6ebfb" stroke-width="0.7" stroke-opacity="0.6"/>
<circle cx="329.05" cy="467.50" r="1.45" fill="none" stroke="#dde4f8" stroke-width="0.6"/>
<circle cx="331.65" cy="467.50" r="1.45" fill="none" stroke="#dde4f8" stroke-width="0.6"/>
<circle cx="334.35" cy="467.50" r="1.45" fill="none" stroke="#dde4f8" stroke-width="0.6"/>
<circle cx="336.95" cy="467.50" r="1.45" fill="none" stroke="#dde4f8" stroke-width="0.6"/>
<line x1="332.95" y1="467.50" x2="332.95" y2="470.10" stroke="#000" stroke-width="1.0"/>
<line x1="328.75" y1="467.50" x2="337.15" y2="467.50" stroke="#000" stroke-width="1.1" stroke-dasharray="2 0.5"/>
<line x1="328.75" y1="470.10" x2="337.15" y2="470.10" stroke="#000" stroke-width="1.1" stroke-dasharray="2 0.5"/>
<line x1="246.90" y1="428.50" x2="246.90" y2="531.90" stroke="#000" stroke-width="1.2"/>
<line x1="246.30" y1="531.30" x2="348.80" y2="531.30" stroke="#000" stroke-width="1.2"/>
<line x1="241.90" y1="429.10" x2="246.90" y2="429.10" stroke="#000" stroke-width="1.0999999999999999"/>
<text x="239.40" y="432.91" font-size="10.6" text-anchor="end">40000</text>
<line x1="241.90" y1="454.65" x2="246.90" y2="454.65" stroke="#000" stroke-width="1.0999999999999999"/>
<text x="239.40" y="458.46" font-size="10.6" text-anchor="end">30000</text>
<line x1="241.90" y1="480.20" x2="246.90" y2="480.20" stroke="#000" stroke-width="1.0999999999999999"/>
<text x="239.40" y="484.01" font-size="10.6" text-anchor="end">20000</text>
<line x1="241.90" y1="505.75" x2="246.90" y2="505.75" stroke="#000" stroke-width="1.0999999999999999"/>
<text x="239.40" y="509.56" font-size="10.6" text-anchor="end">10000</text>
<line x1="241.90" y1="531.30" x2="246.90" y2="531.30" stroke="#000" stroke-width="1.0999999999999999"/>
<text x="239.40" y="535.11" font-size="10.6" text-anchor="end">0</text>
<line x1="262.10" y1="531.30" x2="262.10" y2="535.60" stroke="#000" stroke-width="1.2"/>
<line x1="286.10" y1="531.30" x2="286.10" y2="535.60" stroke="#000" stroke-width="1.2"/>
<line x1="309.80" y1="531.30" x2="309.80" y2="535.60" stroke="#000" stroke-width="1.2"/>
<line x1="333.00" y1="531.30" x2="333.00" y2="535.60" stroke="#000" stroke-width="1.2"/>
<text transform="translate(199.90,479.00) rotate(-90)" font-size="10.6" text-anchor="middle">No. of identified peptides</text>
<text x="216.80" y="545.60" font-size="10" font-weight="bold">LC</text>
<text x="216.80" y="559.80" font-size="10" font-weight="bold">MS</text>
<text x="262.10" y="546.00" font-size="10.6" text-anchor="middle">G</text>
<text x="262.10" y="560.00" font-size="10.6" text-anchor="middle">G</text>
<text x="286.10" y="546.00" font-size="10.6" text-anchor="middle">G</text>
<text x="286.10" y="560.00" font-size="10.6" text-anchor="middle">G</text>
<text x="310.20" y="546.00" font-size="10.6" text-anchor="middle">L</text>
<text x="310.20" y="560.00" font-size="10.6" text-anchor="middle">L</text>
<text x="334.20" y="546.00" font-size="10.6" text-anchor="middle">L</text>
<text x="335.20" y="560.00" font-size="10.6" text-anchor="middle">G</text>
<rect x="132.40" y="397.20" width="9.20" height="9.20" fill="#3b4567" stroke="#000" stroke-width="0.9"/>
<text x="146.50" y="404.60" font-size="10.6">Round robin data</text>
<rect x="239.30" y="397.20" width="9.20" height="9.20" fill="#7086c5" stroke="#000" stroke-width="0.9"/>
<text x="253.40" y="404.60" font-size="10.6">Measurements site L</text>
</g>
<g id="table">
<rect x="403.70" y="421.70" width="213.00" height="283.80" fill="none" stroke="#111" stroke-width="1"/>
<line x1="403.70" y1="440.62" x2="616.70" y2="440.62" stroke="#111" stroke-width="1"/>
<line x1="403.70" y1="459.54" x2="616.70" y2="459.54" stroke="#111" stroke-width="1"/>
<line x1="403.70" y1="478.46" x2="616.70" y2="478.46" stroke="#111" stroke-width="1"/>
<line x1="403.70" y1="497.38" x2="616.70" y2="497.38" stroke="#111" stroke-width="1"/>
<line x1="403.70" y1="516.30" x2="616.70" y2="516.30" stroke="#111" stroke-width="1"/>
<line x1="403.70" y1="535.22" x2="616.70" y2="535.22" stroke="#111" stroke-width="1"/>
<line x1="403.70" y1="554.14" x2="616.70" y2="554.14" stroke="#111" stroke-width="1"/>
<line x1="403.70" y1="573.06" x2="616.70" y2="573.06" stroke="#111" stroke-width="1"/>
<line x1="403.70" y1="591.98" x2="616.70" y2="591.98" stroke="#111" stroke-width="1"/>
<line x1="403.70" y1="610.90" x2="616.70" y2="610.90" stroke="#111" stroke-width="1"/>
<line x1="403.70" y1="629.82" x2="616.70" y2="629.82" stroke="#111" stroke-width="1"/>
<line x1="403.70" y1="648.74" x2="616.70" y2="648.74" stroke="#111" stroke-width="1"/>
<line x1="403.70" y1="667.66" x2="616.70" y2="667.66" stroke="#111" stroke-width="1"/>
<line x1="403.70" y1="686.58" x2="616.70" y2="686.58" stroke="#111" stroke-width="1"/>
<line x1="474.40" y1="421.70" x2="474.40" y2="705.50" stroke="#111" stroke-width="1"/>
<line x1="474.40" y1="421.70" x2="474.40" y2="440.62" stroke="#111" stroke-width="1.8"/>
<line x1="545.60" y1="440.62" x2="545.60" y2="573.06" stroke="#111" stroke-width="1"/>
<line x1="545.60" y1="591.98" x2="545.60" y2="705.50" stroke="#111" stroke-width="1"/>
<text transform="translate(546.45,433.10) scale(0.95,1)" font-size="10.1" text-anchor="middle" font-weight="bold">LC</text>
<text transform="translate(406.90,453.72) scale(0.95,1)" font-size="10.1">Site</text>
<text transform="translate(506.10,452.62) scale(0.95,1)" font-size="10.1" text-anchor="middle" font-weight="bold">G</text>
<text transform="translate(581.15,452.62) scale(0.95,1)" font-size="10.1" text-anchor="middle" font-weight="bold">L</text>
<text transform="translate(406.90,472.64) scale(0.95,1)" font-size="10.1">Column</text>
<text transform="translate(509.60,472.34) scale(0.775,1)" font-size="10.2" text-anchor="middle">IonOpticks Aurora</text>
<text transform="translate(580.75,472.34) scale(0.775,1)" font-size="10.2" text-anchor="middle">Bruker PepSep</text>
<text transform="translate(406.90,491.56) scale(0.95,1)" font-size="10.1">Dimensions</text>
<text transform="translate(509.60,491.26) scale(0.775,1)" font-size="10.2" text-anchor="middle">25 cm x 75 µm</text>
<text transform="translate(580.75,491.26) scale(0.775,1)" font-size="10.2" text-anchor="middle">25 cm x 150 µm</text>
<text transform="translate(406.90,510.48) scale(0.95,1)" font-size="10.1">Gradient length</text>
<text transform="translate(509.60,510.18) scale(0.775,1)" font-size="10.2" text-anchor="middle">30 min (linear)</text>
<text transform="translate(580.75,510.18) scale(0.775,1)" font-size="10.2" text-anchor="middle">35.5 min (linear)</text>
<text transform="translate(406.90,529.40) scale(0.95,1)" font-size="10.1">Flow rate</text>
<text transform="translate(509.60,529.10) scale(0.775,1)" font-size="10.2" text-anchor="middle">300 nL/min</text>
<text transform="translate(580.75,529.10) scale(0.775,1)" font-size="10.2" text-anchor="middle">850 nL/min</text>
<text transform="translate(406.90,548.32) scale(0.95,1)" font-size="10.1">Temperature</text>
<text transform="translate(509.60,548.02) scale(0.775,1)" font-size="10.2" text-anchor="middle">50°C</text>
<text transform="translate(580.75,548.02) scale(0.775,1)" font-size="10.2" text-anchor="middle">40°C</text>
<text transform="translate(406.90,567.24) scale(0.95,1)" font-size="10.1">Final % ACN</text>
<text transform="translate(509.60,566.94) scale(0.775,1)" font-size="10.2" text-anchor="middle">28%</text>
<text transform="translate(580.75,566.94) scale(0.775,1)" font-size="10.2" text-anchor="middle">38%**</text>
<text transform="translate(546.45,584.46) scale(0.95,1)" font-size="10.1" text-anchor="middle" font-weight="bold">MS</text>
<text transform="translate(406.90,605.78) scale(0.95,1)" font-size="10.1">Site</text>
<text transform="translate(509.20,603.98) scale(0.95,1)" font-size="10.1" text-anchor="middle" font-weight="bold">G</text>
<text transform="translate(581.15,603.98) scale(0.95,1)" font-size="10.1" text-anchor="middle" font-weight="bold">L</text>
<text transform="translate(406.90,624.70) scale(0.95,1)" font-size="10.1">Tims*</text>
<text transform="translate(509.60,623.70) scale(0.775,1)" font-size="10.2" text-anchor="middle">100 ms</text>
<text transform="translate(580.75,623.70) scale(0.775,1)" font-size="10.2" text-anchor="middle">100 ms</text>
<text transform="translate(406.90,643.62) scale(0.95,1)" font-size="10.1">Tims range</text>
<text transform="translate(509.60,642.62) scale(0.775,1)" font-size="10.2" text-anchor="middle">0.7 - 1.4 Vs/cm²</text>
<text transform="translate(580.75,642.62) scale(0.775,1)" font-size="10.2" text-anchor="middle">0.6 - 1.6 Vs/cm²</text>
<text transform="translate(406.90,662.54) scale(0.95,1)" font-size="10.1">No. of windows</text>
<text transform="translate(509.60,661.54) scale(0.775,1)" font-size="10.2" text-anchor="middle">26</text>
<text transform="translate(580.75,661.54) scale(0.775,1)" font-size="10.2" text-anchor="middle">36</text>
<text transform="translate(406.90,681.46) scale(0.95,1)" font-size="10.1">Window width</text>
<text transform="translate(509.60,680.46) scale(0.775,1)" font-size="10.2" text-anchor="middle">30 Da (fixed)</text>
<text transform="translate(580.75,680.46) scale(0.775,1)" font-size="10.2" text-anchor="middle">25 Da (fixed)</text>
<text transform="translate(406.90,700.38) scale(0.95,1)" font-size="10.1">Cycle time</text>
<text transform="translate(509.60,699.38) scale(0.775,1)" font-size="10.2" text-anchor="middle">1.3 s</text>
<text transform="translate(580.75,699.38) scale(0.775,1)" font-size="10.2" text-anchor="middle">1.7 s</text>
<text transform="translate(406.30,717.60) scale(0.775,1)" font-size="10.2">*accumulation and ramp time</text>
<text transform="translate(406.30,729.00) scale(0.775,1)" font-size="10.2">**29% (31.5 min)/38% (35.5 min)</text>
</g>
<g id="panel-e">
<text x="9.60" y="599.00" font-size="14" font-weight="bold">e</text>
<line x1="119.20" y1="659.92" x2="329.10" y2="659.92" stroke="#f4f4f4" stroke-width="0.5"/>
<line x1="119.20" y1="633.35" x2="329.10" y2="633.35" stroke="#f4f4f4" stroke-width="0.5"/>
<line x1="119.20" y1="606.78" x2="329.10" y2="606.78" stroke="#f4f4f4" stroke-width="0.5"/>
<line x1="119.20" y1="673.20" x2="329.10" y2="673.20" stroke="#e7e7e7" stroke-width="0.7"/>
<line x1="119.20" y1="646.63" x2="329.10" y2="646.63" stroke="#e7e7e7" stroke-width="0.7"/>
<line x1="119.20" y1="620.06" x2="329.10" y2="620.06" stroke="#e7e7e7" stroke-width="0.7"/>
<line x1="119.20" y1="593.49" x2="329.10" y2="593.49" stroke="#e7e7e7" stroke-width="0.7"/>
<line x1="131.50" y1="588.00" x2="131.50" y2="676.20" stroke="#e7e7e7" stroke-width="0.7"/>
<line x1="152.12" y1="588.00" x2="152.12" y2="676.20" stroke="#e7e7e7" stroke-width="0.7"/>
<line x1="172.74" y1="588.00" x2="172.74" y2="676.20" stroke="#e7e7e7" stroke-width="0.7"/>
<line x1="193.36" y1="588.00" x2="193.36" y2="676.20" stroke="#e7e7e7" stroke-width="0.7"/>
<line x1="213.98" y1="588.00" x2="213.98" y2="676.20" stroke="#e7e7e7" stroke-width="0.7"/>
<line x1="234.60" y1="588.00" x2="234.60" y2="676.20" stroke="#e7e7e7" stroke-width="0.7"/>
<line x1="255.22" y1="588.00" x2="255.22" y2="676.20" stroke="#e7e7e7" stroke-width="0.7"/>
<line x1="275.84" y1="588.00" x2="275.84" y2="676.20" stroke="#e7e7e7" stroke-width="0.7"/>
<line x1="296.46" y1="588.00" x2="296.46" y2="676.20" stroke="#e7e7e7" stroke-width="0.7"/>
<line x1="317.08" y1="588.00" x2="317.08" y2="676.20" stroke="#e7e7e7" stroke-width="0.7"/>
<rect x="122.30" y="592.12" width="18.40" height="81.08" fill="#595959"/>
<rect x="142.92" y="655.66" width="18.40" height="17.54" fill="#595959"/>
<rect x="163.54" y="664.34" width="18.40" height="8.86" fill="#595959"/>
<rect x="184.16" y="664.94" width="18.40" height="8.26" fill="#595959"/>
<rect x="204.78" y="667.81" width="18.40" height="5.39" fill="#595959"/>
<rect x="225.40" y="668.57" width="18.40" height="4.63" fill="#595959"/>
<rect x="246.02" y="671.07" width="18.40" height="2.13" fill="#595959"/>
<rect x="266.64" y="671.96" width="18.40" height="1.24" fill="#595959"/>
<rect x="287.26" y="672.20" width="18.40" height="1.00" fill="#595959"/>
<rect x="307.88" y="672.46" width="18.40" height="0.74" fill="#595959"/>
<rect x="119.20" y="693.60" width="209.90" height="3.60" fill="#f2f2f2"/>
<rect x="119.20" y="721.30" width="209.90" height="3.60" fill="#f2f2f2"/>
<line x1="131.50" y1="687.90" x2="131.50" y2="744.60" stroke="#efefef" stroke-width="0.7"/>
<line x1="152.12" y1="687.90" x2="152.12" y2="744.60" stroke="#efefef" stroke-width="0.7"/>
<line x1="172.74" y1="687.90" x2="172.74" y2="744.60" stroke="#efefef" stroke-width="0.7"/>
<line x1="193.36" y1="687.90" x2="193.36" y2="744.60" stroke="#efefef" stroke-width="0.7"/>
<line x1="213.98" y1="687.90" x2="213.98" y2="744.60" stroke="#efefef" stroke-width="0.7"/>
<line x1="234.60" y1="687.90" x2="234.60" y2="744.60" stroke="#efefef" stroke-width="0.7"/>
<line x1="255.22" y1="687.90" x2="255.22" y2="744.60" stroke="#efefef" stroke-width="0.7"/>
<line x1="275.84" y1="687.90" x2="275.84" y2="744.60" stroke="#efefef" stroke-width="0.7"/>
<line x1="296.46" y1="687.90" x2="296.46" y2="744.60" stroke="#efefef" stroke-width="0.7"/>
<line x1="317.08" y1="687.90" x2="317.08" y2="744.60" stroke="#efefef" stroke-width="0.7"/>
<circle cx="131.50" cy="695.40" r="1.3" fill="#000"/>
<circle cx="131.50" cy="709.50" r="1.3" fill="#000"/>
<circle cx="131.50" cy="723.10" r="1.3" fill="#000"/>
<circle cx="131.50" cy="737.10" r="1.3" fill="#000"/>
<line x1="131.50" y1="695.40" x2="131.50" y2="737.10" stroke="#000" stroke-width="0.55"/>
<circle cx="152.12" cy="695.40" r="1.3" fill="#000"/>
<circle cx="152.12" cy="709.50" r="1.3" fill="#000"/>
<circle cx="152.12" cy="723.10" r="1.1" fill="#d3d3d3"/>
<circle cx="152.12" cy="737.10" r="1.1" fill="#d3d3d3"/>
<line x1="152.12" y1="695.40" x2="152.12" y2="709.50" stroke="#000" stroke-width="0.55"/>
<circle cx="172.74" cy="695.40" r="1.3" fill="#000"/>
<circle cx="172.74" cy="709.50" r="1.1" fill="#d3d3d3"/>
<circle cx="172.74" cy="723.10" r="1.1" fill="#d3d3d3"/>
<circle cx="172.74" cy="737.10" r="1.1" fill="#d3d3d3"/>
<circle cx="193.36" cy="695.40" r="1.1" fill="#d3d3d3"/>
<circle cx="193.36" cy="709.50" r="1.3" fill="#000"/>
<circle cx="193.36" cy="723.10" r="1.1" fill="#d3d3d3"/>
<circle cx="193.36" cy="737.10" r="1.1" fill="#d3d3d3"/>
<circle cx="213.98" cy="695.40" r="1.3" fill="#000"/>
<circle cx="213.98" cy="709.50" r="1.3" fill="#000"/>
<circle cx="213.98" cy="723.10" r="1.3" fill="#000"/>
<circle cx="213.98" cy="737.10" r="1.1" fill="#d3d3d3"/>
<line x1="213.98" y1="695.40" x2="213.98" y2="723.10" stroke="#000" stroke-width="0.55"/>
<circle cx="234.60" cy="695.40" r="1.3" fill="#000"/>
<circle cx="234.60" cy="709.50" r="1.3" fill="#000"/>
<circle cx="234.60" cy="723.10" r="1.1" fill="#d3d3d3"/>
<circle cx="234.60" cy="737.10" r="1.3" fill="#000"/>
<line x1="234.60" y1="695.40" x2="234.60" y2="737.10" stroke="#000" stroke-width="0.55"/>
<circle cx="255.22" cy="695.40" r="1.3" fill="#000"/>
<circle cx="255.22" cy="709.50" r="1.1" fill="#d3d3d3"/>
<circle cx="255.22" cy="723.10" r="1.3" fill="#000"/>
<circle cx="255.22" cy="737.10" r="1.3" fill="#000"/>
<line x1="255.22" y1="695.40" x2="255.22" y2="737.10" stroke="#000" stroke-width="0.55"/>
<circle cx="275.84" cy="695.40" r="1.3" fill="#000"/>
<circle cx="275.84" cy="709.50" r="1.1" fill="#d3d3d3"/>
<circle cx="275.84" cy="723.10" r="1.3" fill="#000"/>
<circle cx="275.84" cy="737.10" r="1.1" fill="#d3d3d3"/>
<line x1="275.84" y1="695.40" x2="275.84" y2="723.10" stroke="#000" stroke-width="0.55"/>
<circle cx="296.46" cy="695.40" r="1.1" fill="#d3d3d3"/>
<circle cx="296.46" cy="709.50" r="1.1" fill="#d3d3d3"/>
<circle cx="296.46" cy="723.10" r="1.3" fill="#000"/>
<circle cx="296.46" cy="737.10" r="1.1" fill="#d3d3d3"/>
<circle cx="317.08" cy="695.40" r="1.1" fill="#d3d3d3"/>
<circle cx="317.08" cy="709.50" r="1.3" fill="#000"/>
<circle cx="317.08" cy="723.10" r="1.3" fill="#000"/>
<circle cx="317.08" cy="737.10" r="1.1" fill="#d3d3d3"/>
<line x1="317.08" y1="709.50" x2="317.08" y2="723.10" stroke="#000" stroke-width="0.55"/>
<text x="131.50" y="585.60" font-size="10.6" text-anchor="middle">3083</text>
<text x="152.12" y="652.00" font-size="10.6" text-anchor="middle">667</text>
<text x="172.74" y="661.20" font-size="10.6" text-anchor="middle">337</text>
<text x="193.36" y="661.70" font-size="10.6" text-anchor="middle">314</text>
<text x="213.98" y="664.90" font-size="10.6" text-anchor="middle">205</text>
<text x="234.60" y="665.70" font-size="10.6" text-anchor="middle">176</text>
<text x="255.22" y="667.30" font-size="10.6" text-anchor="middle">81</text>
<text x="275.84" y="669.80" font-size="10.6" text-anchor="middle">47</text>
<text x="296.46" y="669.40" font-size="10.6" text-anchor="middle">38</text>
<text x="317.08" y="669.40" font-size="10.6" text-anchor="middle">28</text>
<text x="115.20" y="677.10" font-size="10.6" text-anchor="end">0</text>
<text x="115.20" y="650.53" font-size="10.6" text-anchor="end">1000</text>
<text x="115.20" y="623.96" font-size="10.6" text-anchor="end">2000</text>
<text x="115.20" y="597.39" font-size="10.6" text-anchor="end">3000</text>
<text transform="translate(78.30,631.50) rotate(-90)" font-size="10.6" text-anchor="middle">No. of proteins</text>
<text x="70.10" y="685.90" font-size="10.2" text-anchor="middle" font-weight="bold">LC</text>
<text x="92.90" y="685.90" font-size="10.2" text-anchor="middle" font-weight="bold">MS</text>
<text x="27.60" y="700.80" font-size="10.8">Site L</text>
<text x="27.60" y="713.40" font-size="10.8">Site G</text>
<text x="70.10" y="700.80" font-size="10.8" text-anchor="middle">G</text>
<text x="92.70" y="700.80" font-size="10.8" text-anchor="middle">G</text>
<text x="70.10" y="713.40" font-size="10.8" text-anchor="middle">G</text>
<text x="92.70" y="713.40" font-size="10.8" text-anchor="middle">G</text>
<text x="70.10" y="726.80" font-size="10.8" text-anchor="middle">L</text>
<text x="92.70" y="726.80" font-size="10.8" text-anchor="middle">L</text>
<text x="70.10" y="740.70" font-size="10.8" text-anchor="middle">L</text>
<text x="92.70" y="740.70" font-size="10.8" text-anchor="middle">G</text>
</g>
<g id="panel-f">
<text x="11.40" y="764.70" font-size="14" font-weight="bold">f</text>
<text x="46.10" y="775.50" font-size="10.3" font-weight="bold">Plasma</text>
<text x="46.10" y="788.80" font-size="10.6">Proteins</text>
<rect x="47.82" y="801.10" width="12.05" height="90.00" fill="#7086c5" stroke="#28335e" stroke-width="0.85"/>
<circle cx="48.60" cy="801.40" r="1.2" fill="none" stroke="#dfe6fa" stroke-width="0.5"/>
<circle cx="59.10" cy="801.40" r="1.2" fill="none" stroke="#dfe6fa" stroke-width="0.5"/>
<line x1="49.00" y1="801.10" x2="58.70" y2="801.10" stroke="#000" stroke-width="1.3" stroke-dasharray="1.1 0.6"/>
<rect x="67.22" y="800.00" width="12.05" height="91.10" fill="#afc0e6" stroke="#28335e" stroke-width="0.85"/>
<circle cx="68.00" cy="800.30" r="1.2" fill="none" stroke="#dfe6fa" stroke-width="0.5"/>
<circle cx="78.50" cy="800.30" r="1.2" fill="none" stroke="#dfe6fa" stroke-width="0.5"/>
<line x1="68.40" y1="800.00" x2="78.10" y2="800.00" stroke="#000" stroke-width="1.3"/>
<rect x="96.62" y="818.20" width="12.05" height="72.90" fill="#7086c5" stroke="#28335e" stroke-width="0.85"/>
<circle cx="97.40" cy="818.50" r="1.2" fill="none" stroke="#dfe6fa" stroke-width="0.5"/>
<circle cx="107.90" cy="818.50" r="1.2" fill="none" stroke="#dfe6fa" stroke-width="0.5"/>
<line x1="102.65" y1="816.60" x2="102.65" y2="819.80" stroke="#000" stroke-width="0.8"/>
<line x1="97.80" y1="816.60" x2="107.50" y2="816.60" stroke="#000" stroke-width="0.8"/>
<line x1="97.80" y1="819.80" x2="107.50" y2="819.80" stroke="#000" stroke-width="0.8"/>
<rect x="116.12" y="819.00" width="12.15" height="72.10" fill="#afc0e6" stroke="#28335e" stroke-width="0.85"/>
<circle cx="116.90" cy="819.30" r="1.2" fill="none" stroke="#dfe6fa" stroke-width="0.5"/>
<circle cx="127.50" cy="819.30" r="1.2" fill="none" stroke="#dfe6fa" stroke-width="0.5"/>
<line x1="117.30" y1="819.00" x2="127.10" y2="819.00" stroke="#000" stroke-width="1.3"/>
<rect x="145.43" y="833.80" width="12.05" height="57.30" fill="#afc0e6" stroke="#28335e" stroke-width="0.85"/>
<circle cx="146.20" cy="834.10" r="1.2" fill="none" stroke="#dfe6fa" stroke-width="0.5"/>
<circle cx="156.70" cy="834.10" r="1.2" fill="none" stroke="#dfe6fa" stroke-width="0.5"/>
<line x1="151.45" y1="832.00" x2="151.45" y2="835.60" stroke="#000" stroke-width="0.8"/>
<line x1="146.60" y1="832.00" x2="156.30" y2="832.00" stroke="#000" stroke-width="0.8"/>
<line x1="146.60" y1="835.60" x2="156.30" y2="835.60" stroke="#000" stroke-width="0.8"/>
<rect x="174.83" y="802.40" width="12.05" height="88.70" fill="#afc0e6" stroke="#28335e" stroke-width="0.85"/>
<circle cx="175.60" cy="802.70" r="1.2" fill="none" stroke="#dfe6fa" stroke-width="0.5"/>
<circle cx="186.10" cy="802.70" r="1.2" fill="none" stroke="#dfe6fa" stroke-width="0.5"/>
<line x1="176.00" y1="802.40" x2="185.70" y2="802.40" stroke="#000" stroke-width="1.3"/>
<line x1="88.30" y1="790.20" x2="88.30" y2="891.10" stroke="#000" stroke-width="1.5" stroke-dasharray="1.25 1.25"/>
<line x1="138.00" y1="790.20" x2="138.00" y2="891.10" stroke="#000" stroke-width="1.5" stroke-dasharray="1.25 1.25"/>
<line x1="167.00" y1="790.20" x2="167.00" y2="891.10" stroke="#000" stroke-width="1.5" stroke-dasharray="1.25 1.25"/>
<line x1="40.80" y1="788.15" x2="40.80" y2="891.75" stroke="#000" stroke-width="1.3"/>
<line x1="40.15" y1="891.10" x2="194.50" y2="891.10" stroke="#000" stroke-width="1.3"/>
<line x1="35.80" y1="788.80" x2="40.80" y2="788.80" stroke="#000" stroke-width="1.2"/>
<text x="35.90" y="792.79" font-size="11.1" text-anchor="end">500</text>
<line x1="35.80" y1="809.26" x2="40.80" y2="809.26" stroke="#000" stroke-width="1.2"/>
<text x="35.90" y="813.25" font-size="11.1" text-anchor="end">400</text>
<line x1="35.80" y1="829.72" x2="40.80" y2="829.72" stroke="#000" stroke-width="1.2"/>
<text x="35.90" y="833.71" font-size="11.1" text-anchor="end">300</text>
<line x1="35.80" y1="850.18" x2="40.80" y2="850.18" stroke="#000" stroke-width="1.2"/>
<text x="35.90" y="854.17" font-size="11.1" text-anchor="end">200</text>
<line x1="35.80" y1="870.64" x2="40.80" y2="870.64" stroke="#000" stroke-width="1.2"/>
<text x="35.90" y="874.63" font-size="11.1" text-anchor="end">100</text>
<line x1="35.80" y1="891.10" x2="40.80" y2="891.10" stroke="#000" stroke-width="1.2"/>
<text x="35.90" y="895.09" font-size="11.1" text-anchor="end">0</text>
<text transform="translate(8.30,836.50) rotate(-90)" font-size="10.6" text-anchor="middle">No. of identified proteins</text>
<text transform="translate(64.60,899.50) rotate(-45)" font-size="10.6" text-anchor="end">H_ulti_ex</text>
<text transform="translate(114.30,899.50) rotate(-45)" font-size="10.6" text-anchor="end">G_ulti_ex</text>
<text transform="translate(151.00,899.50) rotate(-45)" font-size="10.6" text-anchor="end">L_ulti_ex</text>
<text transform="translate(182.30,899.50) rotate(-45)" font-size="10.6" text-anchor="end">H_ulti_ecl</text>
<text x="255.00" y="788.80" font-size="10.6">Peptides</text>
<rect x="257.73" y="810.60" width="12.05" height="80.50" fill="#7086c5" stroke="#28335e" stroke-width="0.85"/>
<circle cx="258.50" cy="810.90" r="1.2" fill="none" stroke="#dfe6fa" stroke-width="0.5"/>
<circle cx="269.00" cy="810.90" r="1.2" fill="none" stroke="#dfe6fa" stroke-width="0.5"/>
<line x1="258.90" y1="810.60" x2="268.60" y2="810.60" stroke="#000" stroke-width="1.3" stroke-dasharray="1.1 0.6"/>
<rect x="277.32" y="798.70" width="12.05" height="92.40" fill="#afc0e6" stroke="#28335e" stroke-width="0.85"/>
<circle cx="278.10" cy="799.00" r="1.2" fill="none" stroke="#dfe6fa" stroke-width="0.5"/>
<circle cx="288.60" cy="799.00" r="1.2" fill="none" stroke="#dfe6fa" stroke-width="0.5"/>
<line x1="278.50" y1="798.70" x2="288.20" y2="798.70" stroke="#000" stroke-width="1.3"/>
<rect x="306.73" y="825.60" width="12.05" height="65.50" fill="#7086c5" stroke="#28335e" stroke-width="0.85"/>
<circle cx="307.50" cy="825.90" r="1.2" fill="none" stroke="#dfe6fa" stroke-width="0.5"/>
<circle cx="318.00" cy="825.90" r="1.2" fill="none" stroke="#dfe6fa" stroke-width="0.5"/>
<line x1="307.90" y1="825.60" x2="317.60" y2="825.60" stroke="#000" stroke-width="1.3" stroke-dasharray="1.1 0.6"/>
<rect x="325.93" y="816.10" width="12.55" height="75.00" fill="#afc0e6" stroke="#28335e" stroke-width="0.85"/>
<circle cx="326.70" cy="816.40" r="1.2" fill="none" stroke="#dfe6fa" stroke-width="0.5"/>
<circle cx="337.70" cy="816.40" r="1.2" fill="none" stroke="#dfe6fa" stroke-width="0.5"/>
<line x1="327.10" y1="816.10" x2="337.30" y2="816.10" stroke="#000" stroke-width="1.3"/>
<rect x="355.43" y="836.60" width="12.05" height="54.50" fill="#afc0e6" stroke="#28335e" stroke-width="0.85"/>
<circle cx="356.20" cy="836.90" r="1.2" fill="none" stroke="#dfe6fa" stroke-width="0.5"/>
<circle cx="366.70" cy="836.90" r="1.2" fill="none" stroke="#dfe6fa" stroke-width="0.5"/>
<line x1="356.60" y1="836.60" x2="366.30" y2="836.60" stroke="#000" stroke-width="1.3"/>
<rect x="384.53" y="799.00" width="12.25" height="92.10" fill="#afc0e6" stroke="#28335e" stroke-width="0.85"/>
<circle cx="385.30" cy="799.30" r="1.2" fill="none" stroke="#dfe6fa" stroke-width="0.5"/>
<circle cx="396.00" cy="799.30" r="1.2" fill="none" stroke="#dfe6fa" stroke-width="0.5"/>
<line x1="385.70" y1="799.00" x2="395.60" y2="799.00" stroke="#000" stroke-width="1.3"/>
<line x1="298.10" y1="789.20" x2="298.10" y2="891.10" stroke="#000" stroke-width="1.5" stroke-dasharray="1.25 1.25"/>
<line x1="347.10" y1="789.20" x2="347.10" y2="891.10" stroke="#000" stroke-width="1.5" stroke-dasharray="1.25 1.25"/>
<line x1="377.40" y1="789.20" x2="377.40" y2="891.10" stroke="#000" stroke-width="1.5" stroke-dasharray="1.25 1.25"/>
<line x1="250.90" y1="788.15" x2="250.90" y2="891.75" stroke="#000" stroke-width="1.3"/>
<line x1="250.25" y1="891.10" x2="404.40" y2="891.10" stroke="#000" stroke-width="1.3"/>
<line x1="245.90" y1="788.80" x2="250.90" y2="788.80" stroke="#000" stroke-width="1.2"/>
<text x="244.80" y="792.79" font-size="11.1" text-anchor="end">6000</text>
<line x1="245.90" y1="822.90" x2="250.90" y2="822.90" stroke="#000" stroke-width="1.2"/>
<text x="244.80" y="826.89" font-size="11.1" text-anchor="end">4000</text>
<line x1="245.90" y1="857.00" x2="250.90" y2="857.00" stroke="#000" stroke-width="1.2"/>
<text x="244.80" y="860.99" font-size="11.1" text-anchor="end">2000</text>
<line x1="245.90" y1="891.10" x2="250.90" y2="891.10" stroke="#000" stroke-width="1.2"/>
<text x="244.80" y="895.09" font-size="11.1" text-anchor="end">0</text>
<text transform="translate(212.70,836.50) rotate(-90)" font-size="10.6" text-anchor="middle">No. of identified peptides</text>
<text transform="translate(275.60,899.50) rotate(-45)" font-size="10.6" text-anchor="end">H_ulti_ex</text>
<text transform="translate(325.30,899.50) rotate(-45)" font-size="10.6" text-anchor="end">G_ulti_ex</text>
<text transform="translate(364.00,899.50) rotate(-45)" font-size="10.6" text-anchor="end">L_ulti_ex</text>
<text transform="translate(394.00,899.50) rotate(-45)" font-size="10.6" text-anchor="end">H_ulti_ecl</text>
<rect x="133.60" y="762.00" width="8.80" height="8.80" fill="#afc0e6" stroke="#000" stroke-width="0.9"/>
<text x="147.40" y="769.90" font-size="10.6">Settings as indicated</text>
<rect x="253.20" y="762.00" width="8.80" height="8.80" fill="#7086c5" stroke="#000" stroke-width="0.9"/>
<text x="267.40" y="769.90" font-size="10.6">Measurements site L</text>
</g>
<g id="panel-g">
<text x="410.90" y="766.40" font-size="14" font-weight="bold">g</text>
<line x1="471.80" y1="824.10" x2="685.00" y2="824.10" stroke="#f4f4f4" stroke-width="0.5"/>
<line x1="471.80" y1="789.50" x2="685.00" y2="789.50" stroke="#f4f4f4" stroke-width="0.5"/>
<line x1="471.80" y1="754.90" x2="685.00" y2="754.90" stroke="#f4f4f4" stroke-width="0.5"/>
<line x1="471.80" y1="841.40" x2="685.00" y2="841.40" stroke="#e7e7e7" stroke-width="0.7"/>
<line x1="471.80" y1="806.80" x2="685.00" y2="806.80" stroke="#e7e7e7" stroke-width="0.7"/>
<line x1="471.80" y1="772.20" x2="685.00" y2="772.20" stroke="#e7e7e7" stroke-width="0.7"/>
<line x1="484.30" y1="755.00" x2="484.30" y2="844.40" stroke="#e7e7e7" stroke-width="0.7"/>
<line x1="505.17" y1="755.00" x2="505.17" y2="844.40" stroke="#e7e7e7" stroke-width="0.7"/>
<line x1="526.04" y1="755.00" x2="526.04" y2="844.40" stroke="#e7e7e7" stroke-width="0.7"/>
<line x1="546.91" y1="755.00" x2="546.91" y2="844.40" stroke="#e7e7e7" stroke-width="0.7"/>
<line x1="567.78" y1="755.00" x2="567.78" y2="844.40" stroke="#e7e7e7" stroke-width="0.7"/>
<line x1="588.65" y1="755.00" x2="588.65" y2="844.40" stroke="#e7e7e7" stroke-width="0.7"/>
<line x1="609.52" y1="755.00" x2="609.52" y2="844.40" stroke="#e7e7e7" stroke-width="0.7"/>
<line x1="630.39" y1="755.00" x2="630.39" y2="844.40" stroke="#e7e7e7" stroke-width="0.7"/>
<line x1="651.26" y1="755.00" x2="651.26" y2="844.40" stroke="#e7e7e7" stroke-width="0.7"/>
<line x1="672.13" y1="755.00" x2="672.13" y2="844.40" stroke="#e7e7e7" stroke-width="0.7"/>
<rect x="475.00" y="760.09" width="18.60" height="81.31" fill="#595959"/>
<rect x="495.87" y="819.71" width="18.60" height="21.69" fill="#595959"/>
<rect x="516.74" y="832.51" width="18.60" height="8.89" fill="#595959"/>
<rect x="537.61" y="833.20" width="18.60" height="8.20" fill="#595959"/>
<rect x="558.48" y="834.24" width="18.60" height="7.16" fill="#595959"/>
<rect x="579.35" y="834.58" width="18.60" height="6.82" fill="#595959"/>
<rect x="600.22" y="834.58" width="18.60" height="6.82" fill="#595959"/>
<rect x="621.09" y="834.58" width="18.60" height="6.82" fill="#595959"/>
<rect x="641.96" y="835.97" width="18.60" height="5.43" fill="#595959"/>
<rect x="662.83" y="837.01" width="18.60" height="4.39" fill="#595959"/>
<rect x="471.80" y="854.40" width="213.20" height="3.60" fill="#f2f2f2"/>
<rect x="471.80" y="875.30" width="213.20" height="3.60" fill="#f2f2f2"/>
<rect x="471.80" y="896.20" width="213.20" height="3.60" fill="#f2f2f2"/>
<line x1="484.30" y1="848.70" x2="484.30" y2="915.95" stroke="#efefef" stroke-width="0.7"/>
<line x1="505.17" y1="848.70" x2="505.17" y2="915.95" stroke="#efefef" stroke-width="0.7"/>
<line x1="526.04" y1="848.70" x2="526.04" y2="915.95" stroke="#efefef" stroke-width="0.7"/>
<line x1="546.91" y1="848.70" x2="546.91" y2="915.95" stroke="#efefef" stroke-width="0.7"/>
<line x1="567.78" y1="848.70" x2="567.78" y2="915.95" stroke="#efefef" stroke-width="0.7"/>
<line x1="588.65" y1="848.70" x2="588.65" y2="915.95" stroke="#efefef" stroke-width="0.7"/>
<line x1="609.52" y1="848.70" x2="609.52" y2="915.95" stroke="#efefef" stroke-width="0.7"/>
<line x1="630.39" y1="848.70" x2="630.39" y2="915.95" stroke="#efefef" stroke-width="0.7"/>
<line x1="651.26" y1="848.70" x2="651.26" y2="915.95" stroke="#efefef" stroke-width="0.7"/>
<line x1="672.13" y1="848.70" x2="672.13" y2="915.95" stroke="#efefef" stroke-width="0.7"/>
<circle cx="484.30" cy="856.20" r="1.3" fill="#000"/>
<circle cx="484.30" cy="866.65" r="1.3" fill="#000"/>
<circle cx="484.30" cy="877.10" r="1.3" fill="#000"/>
<circle cx="484.30" cy="887.55" r="1.3" fill="#000"/>
<circle cx="484.30" cy="898.00" r="1.3" fill="#000"/>
<circle cx="484.30" cy="908.45" r="1.3" fill="#000"/>
<line x1="484.30" y1="856.20" x2="484.30" y2="908.45" stroke="#000" stroke-width="0.55"/>
<circle cx="505.17" cy="856.20" r="1.3" fill="#000"/>
<circle cx="505.17" cy="866.65" r="1.3" fill="#000"/>
<circle cx="505.17" cy="877.10" r="1.3" fill="#000"/>
<circle cx="505.17" cy="887.55" r="1.3" fill="#000"/>
<circle cx="505.17" cy="898.00" r="1.3" fill="#000"/>
<circle cx="505.17" cy="908.45" r="1.1" fill="#d3d3d3"/>
<line x1="505.17" y1="856.20" x2="505.17" y2="898.00" stroke="#000" stroke-width="0.55"/>
<circle cx="526.04" cy="856.20" r="1.1" fill="#d3d3d3"/>
<circle cx="526.04" cy="866.65" r="1.1" fill="#d3d3d3"/>
<circle cx="526.04" cy="877.10" r="1.1" fill="#d3d3d3"/>
<circle cx="526.04" cy="887.55" r="1.1" fill="#d3d3d3"/>
<circle cx="526.04" cy="898.00" r="1.1" fill="#d3d3d3"/>
<circle cx="526.04" cy="908.45" r="1.3" fill="#000"/>
<circle cx="546.91" cy="856.20" r="1.3" fill="#000"/>
<circle cx="546.91" cy="866.65" r="1.3" fill="#000"/>
<circle cx="546.91" cy="877.10" r="1.3" fill="#000"/>
<circle cx="546.91" cy="887.55" r="1.1" fill="#d3d3d3"/>
<circle cx="546.91" cy="898.00" r="1.1" fill="#d3d3d3"/>
<circle cx="546.91" cy="908.45" r="1.1" fill="#d3d3d3"/>
<line x1="546.91" y1="856.20" x2="546.91" y2="877.10" stroke="#000" stroke-width="0.55"/>
<circle cx="567.78" cy="856.20" r="1.3" fill="#000"/>
<circle cx="567.78" cy="866.65" r="1.3" fill="#000"/>
<circle cx="567.78" cy="877.10" r="1.3" fill="#000"/>
<circle cx="567.78" cy="887.55" r="1.3" fill="#000"/>
<circle cx="567.78" cy="898.00" r="1.1" fill="#d3d3d3"/>
<circle cx="567.78" cy="908.45" r="1.1" fill="#d3d3d3"/>
<line x1="567.78" y1="856.20" x2="567.78" y2="887.55" stroke="#000" stroke-width="0.55"/>
<circle cx="588.65" cy="856.20" r="1.3" fill="#000"/>
<circle cx="588.65" cy="866.65" r="1.3" fill="#000"/>
<circle cx="588.65" cy="877.10" r="1.3" fill="#000"/>
<circle cx="588.65" cy="887.55" r="1.1" fill="#d3d3d3"/>
<circle cx="588.65" cy="898.00" r="1.3" fill="#000"/>
<circle cx="588.65" cy="908.45" r="1.1" fill="#d3d3d3"/>
<line x1="588.65" y1="856.20" x2="588.65" y2="898.00" stroke="#000" stroke-width="0.55"/>
<circle cx="609.52" cy="856.20" r="1.1" fill="#d3d3d3"/>
<circle cx="609.52" cy="866.65" r="1.3" fill="#000"/>
<circle cx="609.52" cy="877.10" r="1.1" fill="#d3d3d3"/>
<circle cx="609.52" cy="887.55" r="1.1" fill="#d3d3d3"/>
<circle cx="609.52" cy="898.00" r="1.1" fill="#d3d3d3"/>
<circle cx="609.52" cy="908.45" r="1.1" fill="#d3d3d3"/>
<circle cx="630.39" cy="856.20" r="1.3" fill="#000"/>
<circle cx="630.39" cy="866.65" r="1.1" fill="#d3d3d3"/>
<circle cx="630.39" cy="877.10" r="1.1" fill="#d3d3d3"/>
<circle cx="630.39" cy="887.55" r="1.1" fill="#d3d3d3"/>
<circle cx="630.39" cy="898.00" r="1.1" fill="#d3d3d3"/>
<circle cx="630.39" cy="908.45" r="1.1" fill="#d3d3d3"/>
<circle cx="651.26" cy="856.20" r="1.1" fill="#d3d3d3"/>
<circle cx="651.26" cy="866.65" r="1.1" fill="#d3d3d3"/>
<circle cx="651.26" cy="877.10" r="1.3" fill="#000"/>
<circle cx="651.26" cy="887.55" r="1.1" fill="#d3d3d3"/>
<circle cx="651.26" cy="898.00" r="1.1" fill="#d3d3d3"/>
<circle cx="651.26" cy="908.45" r="1.1" fill="#d3d3d3"/>
<circle cx="672.13" cy="856.20" r="1.3" fill="#000"/>
<circle cx="672.13" cy="866.65" r="1.1" fill="#d3d3d3"/>
<circle cx="672.13" cy="877.10" r="1.3" fill="#000"/>
<circle cx="672.13" cy="887.55" r="1.1" fill="#d3d3d3"/>
<circle cx="672.13" cy="898.00" r="1.1" fill="#d3d3d3"/>
<circle cx="672.13" cy="908.45" r="1.1" fill="#d3d3d3"/>
<line x1="672.13" y1="856.20" x2="672.13" y2="877.10" stroke="#000" stroke-width="0.55"/>
<text x="484.30" y="787.90" font-size="10.7" text-anchor="middle" fill="#fff">235</text>
<text x="505.17" y="816.66" font-size="10.7" text-anchor="middle">64</text>
<text x="526.04" y="829.46" font-size="10.7" text-anchor="middle">27</text>
<text x="546.91" y="830.15" font-size="10.7" text-anchor="middle">25</text>
<text x="567.78" y="831.19" font-size="10.7" text-anchor="middle">22</text>
<text x="588.65" y="831.53" font-size="10.7" text-anchor="middle">21</text>
<text x="609.52" y="831.53" font-size="10.7" text-anchor="middle">21</text>
<text x="630.39" y="831.53" font-size="10.7" text-anchor="middle">21</text>
<text x="651.26" y="832.92" font-size="10.7" text-anchor="middle">17</text>
<text x="672.13" y="833.96" font-size="10.7" text-anchor="middle">14</text>
<text x="470.00" y="846.80" font-size="10.6" text-anchor="end">0</text>
<text x="470.00" y="810.60" font-size="10.6" text-anchor="end">100</text>
<text x="470.00" y="776.00" font-size="10.6" text-anchor="end">200</text>
<text transform="translate(441.80,803.50) rotate(-90)" font-size="10.8" text-anchor="middle">No. of proteins</text>
<text x="471.00" y="857.60" font-size="10.75" text-anchor="end">H_ulti_ex</text>
<text x="471.00" y="868.80" font-size="10.75" text-anchor="end">H_ulti_ex*</text>
<text x="471.00" y="880.10" font-size="10.75" text-anchor="end">H_ulti_ecl</text>
<text x="471.00" y="891.00" font-size="10.75" text-anchor="end">G_ulti_ex*</text>
<text x="471.00" y="902.20" font-size="10.75" text-anchor="end">G_ulti_ex</text>
<text x="471.00" y="913.30" font-size="10.75" text-anchor="end">L_ulti_ex</text>
<text x="480.20" y="927.10" font-size="10.9">*measured at site L</text>
</g>
</svg></body></html>
